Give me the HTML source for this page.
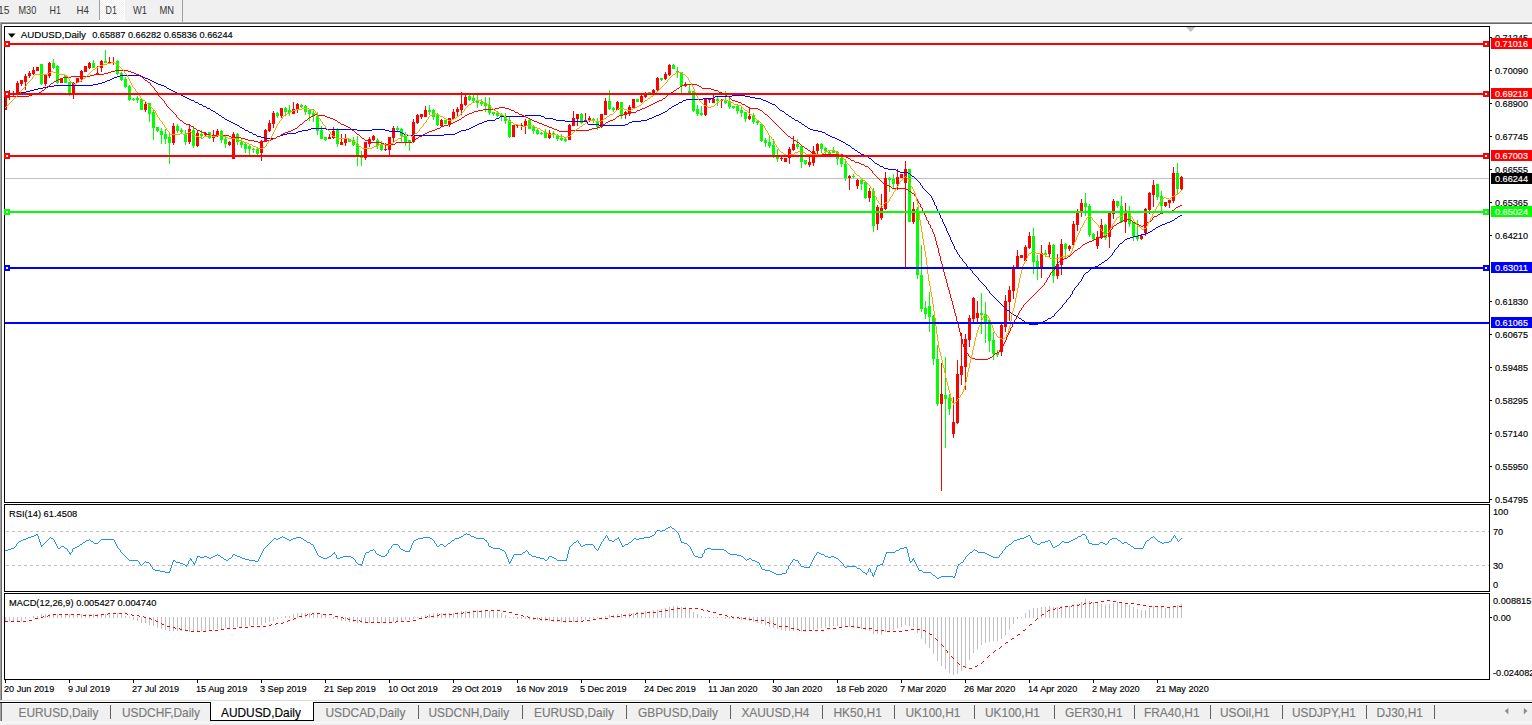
<!DOCTYPE html>
<html><head><meta charset="utf-8"><title>AUDUSD,Daily</title>
<style>html,body{margin:0;padding:0;background:#fff;overflow:hidden}body{width:1532px;height:725px;font-family:"Liberation Sans",sans-serif}</style></head>
<body>
<svg width="1532" height="725" viewBox="0 0 1532 725" font-family="Liberation Sans, sans-serif" style="display:block">
<rect x="0" y="0" width="1532" height="725" fill="#fff"/>
<g shape-rendering="crispEdges">
<rect x="0" y="0" width="1532" height="21" fill="#f0f0f0"/>
<rect x="0" y="21" width="1532" height="1" fill="#fbfbfb"/>
<rect x="0" y="22" width="1532" height="1" fill="#a0a0a0"/>
<rect x="0" y="23" width="1532" height="1" fill="#696969"/>
<defs><pattern id="chk" x="0" y="0" width="2" height="2" patternUnits="userSpaceOnUse"><rect width="2" height="2" fill="#f0f0f0"/><rect x="0" y="0" width="1" height="1" fill="#fff"/><rect x="1" y="1" width="1" height="1" fill="#fff"/></pattern></defs>
<rect x="100" y="0" width="24" height="20" fill="url(#chk)"/>
<rect x="124" y="0" width="1" height="21" fill="#fff"/>
<rect x="99" y="20" width="26" height="1" fill="#fff"/>
<rect x="99" y="0" width="1" height="20" fill="#a0a0a0"/>
<rect x="182" y="0" width="1" height="22" fill="#a0a0a0"/>
<rect x="0" y="22" width="1" height="679" fill="#a0a0a0"/>
<rect x="1" y="23" width="1" height="678" fill="#696969"/>
<rect x="0" y="700" width="1532" height="1" fill="#dcdcdc"/>
<rect x="0" y="701" width="1532" height="1" fill="#fff"/>
<rect x="0" y="703" width="1532" height="1" fill="#fdfdfd"/>
<rect x="0" y="704" width="1532" height="18" fill="#f0f0f0"/>
<rect x="0" y="722" width="1532" height="1" fill="#fbfbfb"/>
<rect x="0" y="723" width="1532" height="2" fill="#f0f0f0"/>
<rect x="0" y="702" width="1532" height="1" fill="#000"/>
<rect x="0" y="703" width="1" height="18" fill="#a0a0a0"/>
<rect x="1" y="703" width="1" height="18" fill="#696969"/>
<rect x="211" y="702" width="102" height="18" fill="#fff"/>
<rect x="210" y="702" width="1" height="19" fill="#000"/>
<rect x="313" y="702" width="1" height="19" fill="#000"/>
<rect x="210" y="720" width="104" height="1" fill="#000"/>
<rect x="110" y="705" width="1" height="14" fill="#606060"/>
<rect x="418" y="705" width="1" height="14" fill="#606060"/>
<rect x="522" y="705" width="1" height="14" fill="#606060"/>
<rect x="626" y="705" width="1" height="14" fill="#606060"/>
<rect x="730" y="705" width="1" height="14" fill="#606060"/>
<rect x="822" y="705" width="1" height="14" fill="#606060"/>
<rect x="894" y="705" width="1" height="14" fill="#606060"/>
<rect x="974" y="705" width="1" height="14" fill="#606060"/>
<rect x="1054" y="705" width="1" height="14" fill="#606060"/>
<rect x="1134" y="705" width="1" height="14" fill="#606060"/>
<rect x="1210" y="705" width="1" height="14" fill="#606060"/>
<rect x="1282" y="705" width="1" height="14" fill="#606060"/>
<rect x="1366" y="705" width="1" height="14" fill="#606060"/>
<rect x="1434" y="705" width="1" height="14" fill="#606060"/>
</g>
<path d="M1508.4 707.8 L1504.8 711.1 L1508.4 714.4 Z" fill="#8c8c8c"/>
<path d="M1523.8 707.8 L1527.4 711.1 L1523.8 714.4 Z" fill="#8c8c8c"/>
<g shape-rendering="crispEdges" fill="#000">
<rect x="4" y="26" width="1486" height="1"/>
<rect x="4" y="26" width="1" height="654"/>
<rect x="1489" y="26" width="1" height="654"/>
<rect x="4" y="502" width="1486" height="1"/>
<rect x="4" y="504" width="1486" height="1"/>
<rect x="4" y="591" width="1486" height="1"/>
<rect x="4" y="593" width="1486" height="1"/>
<rect x="4" y="679" width="1486" height="1"/>
</g>
<g shape-rendering="crispEdges" fill="#fff">
<rect x="4" y="503" width="1486" height="1"/>
<rect x="4" y="592" width="1486" height="1"/>
</g>
<path d="M1186 27 L1195.5 27 L1190.7 32 Z" fill="#c0c0c0"/>
<rect x="5" y="178" width="1484" height="1" fill="#c0c0c0" shape-rendering="crispEdges"/>
<g shape-rendering="crispEdges">
<rect x="5" y="91" width="1" height="19" fill="#ff0000"/>
<rect x="5" y="91" width="2" height="19" fill="#ff0000"/>
<rect x="9" y="90" width="1" height="10" fill="#ff0000"/>
<rect x="8" y="93" width="3" height="2" fill="#ff0000"/>
<rect x="13" y="91" width="1" height="5" fill="#ff0000"/>
<rect x="12" y="93" width="3" height="2" fill="#ff0000"/>
<rect x="17" y="81" width="1" height="13" fill="#ff0000"/>
<rect x="16" y="83" width="3" height="10" fill="#ff0000"/>
<rect x="21" y="80" width="1" height="6" fill="#ff0000"/>
<rect x="20" y="80" width="3" height="4" fill="#ff0000"/>
<rect x="25" y="74" width="1" height="16" fill="#ff0000"/>
<rect x="24" y="76" width="3" height="6" fill="#ff0000"/>
<rect x="29" y="71" width="1" height="7" fill="#ff0000"/>
<rect x="28" y="73" width="3" height="3" fill="#ff0000"/>
<rect x="33" y="67" width="1" height="8" fill="#ff0000"/>
<rect x="32" y="70" width="3" height="4" fill="#ff0000"/>
<rect x="37" y="67" width="1" height="4" fill="#ff0000"/>
<rect x="36" y="67" width="3" height="4" fill="#ff0000"/>
<rect x="41" y="64" width="1" height="21" fill="#00ff00"/>
<rect x="40" y="64" width="3" height="20" fill="#00ff00"/>
<rect x="45" y="75" width="1" height="11" fill="#ff0000"/>
<rect x="44" y="75" width="3" height="9" fill="#ff0000"/>
<rect x="49" y="62" width="1" height="16" fill="#ff0000"/>
<rect x="48" y="63" width="3" height="13" fill="#ff0000"/>
<rect x="53" y="59" width="1" height="10" fill="#00ff00"/>
<rect x="52" y="63" width="3" height="5" fill="#00ff00"/>
<rect x="57" y="65" width="1" height="19" fill="#00ff00"/>
<rect x="56" y="66" width="3" height="17" fill="#00ff00"/>
<rect x="61" y="78" width="1" height="5" fill="#ff0000"/>
<rect x="60" y="78" width="3" height="5" fill="#ff0000"/>
<rect x="65" y="75" width="1" height="8" fill="#00ff00"/>
<rect x="64" y="75" width="3" height="8" fill="#00ff00"/>
<rect x="69" y="82" width="1" height="14" fill="#00ff00"/>
<rect x="68" y="82" width="3" height="11" fill="#00ff00"/>
<rect x="73" y="82" width="1" height="17" fill="#ff0000"/>
<rect x="72" y="83" width="3" height="11" fill="#ff0000"/>
<rect x="77" y="78" width="1" height="5" fill="#ff0000"/>
<rect x="76" y="78" width="3" height="5" fill="#ff0000"/>
<rect x="81" y="70" width="1" height="12" fill="#ff0000"/>
<rect x="80" y="71" width="3" height="8" fill="#ff0000"/>
<rect x="85" y="66" width="1" height="6" fill="#ff0000"/>
<rect x="84" y="66" width="3" height="6" fill="#ff0000"/>
<rect x="89" y="62" width="1" height="7" fill="#ff0000"/>
<rect x="88" y="63" width="3" height="5" fill="#ff0000"/>
<rect x="93" y="60" width="1" height="8" fill="#00ff00"/>
<rect x="92" y="63" width="3" height="5" fill="#00ff00"/>
<rect x="97" y="66" width="1" height="8" fill="#ff0000"/>
<rect x="96" y="73" width="3" height="1" fill="#ff0000"/>
<rect x="101" y="60" width="1" height="12" fill="#ff0000"/>
<rect x="100" y="61" width="3" height="7" fill="#ff0000"/>
<rect x="105" y="50" width="1" height="13" fill="#00ff00"/>
<rect x="104" y="61" width="3" height="2" fill="#00ff00"/>
<rect x="109" y="57" width="1" height="6" fill="#ff0000"/>
<rect x="108" y="62" width="3" height="1" fill="#ff0000"/>
<rect x="113" y="57" width="1" height="8" fill="#ff0000"/>
<rect x="112" y="62" width="3" height="1" fill="#ff0000"/>
<rect x="117" y="60" width="1" height="15" fill="#00ff00"/>
<rect x="116" y="61" width="3" height="13" fill="#00ff00"/>
<rect x="121" y="72" width="1" height="9" fill="#00ff00"/>
<rect x="120" y="73" width="3" height="7" fill="#00ff00"/>
<rect x="125" y="77" width="1" height="11" fill="#00ff00"/>
<rect x="124" y="79" width="3" height="8" fill="#00ff00"/>
<rect x="129" y="85" width="1" height="16" fill="#00ff00"/>
<rect x="128" y="86" width="3" height="14" fill="#00ff00"/>
<rect x="133" y="98" width="1" height="3" fill="#00ff00"/>
<rect x="132" y="99" width="3" height="1" fill="#00ff00"/>
<rect x="137" y="96" width="1" height="7" fill="#00ff00"/>
<rect x="136" y="98" width="3" height="2" fill="#00ff00"/>
<rect x="141" y="99" width="1" height="11" fill="#00ff00"/>
<rect x="140" y="99" width="3" height="11" fill="#00ff00"/>
<rect x="145" y="101" width="1" height="11" fill="#ff0000"/>
<rect x="144" y="104" width="3" height="6" fill="#ff0000"/>
<rect x="149" y="103" width="1" height="19" fill="#00ff00"/>
<rect x="148" y="103" width="3" height="11" fill="#00ff00"/>
<rect x="153" y="110" width="1" height="30" fill="#00ff00"/>
<rect x="152" y="112" width="3" height="16" fill="#00ff00"/>
<rect x="157" y="127" width="1" height="5" fill="#00ff00"/>
<rect x="156" y="127" width="3" height="4" fill="#00ff00"/>
<rect x="161" y="128" width="1" height="16" fill="#00ff00"/>
<rect x="160" y="131" width="3" height="4" fill="#00ff00"/>
<rect x="165" y="129" width="1" height="15" fill="#00ff00"/>
<rect x="164" y="134" width="3" height="5" fill="#00ff00"/>
<rect x="169" y="134" width="1" height="30" fill="#00ff00"/>
<rect x="168" y="137" width="3" height="6" fill="#00ff00"/>
<rect x="173" y="123" width="1" height="22" fill="#ff0000"/>
<rect x="172" y="126" width="3" height="17" fill="#ff0000"/>
<rect x="177" y="124" width="1" height="9" fill="#00ff00"/>
<rect x="176" y="126" width="3" height="5" fill="#00ff00"/>
<rect x="181" y="128" width="1" height="6" fill="#00ff00"/>
<rect x="180" y="130" width="3" height="2" fill="#00ff00"/>
<rect x="185" y="130" width="1" height="15" fill="#00ff00"/>
<rect x="184" y="134" width="3" height="8" fill="#00ff00"/>
<rect x="189" y="124" width="1" height="20" fill="#ff0000"/>
<rect x="188" y="129" width="3" height="13" fill="#ff0000"/>
<rect x="193" y="126" width="1" height="22" fill="#00ff00"/>
<rect x="192" y="130" width="3" height="16" fill="#00ff00"/>
<rect x="197" y="130" width="1" height="17" fill="#ff0000"/>
<rect x="196" y="133" width="3" height="13" fill="#ff0000"/>
<rect x="201" y="130" width="1" height="8" fill="#00ff00"/>
<rect x="200" y="134" width="3" height="2" fill="#00ff00"/>
<rect x="205" y="132" width="1" height="4" fill="#ff0000"/>
<rect x="204" y="133" width="3" height="2" fill="#ff0000"/>
<rect x="209" y="132" width="1" height="7" fill="#00ff00"/>
<rect x="208" y="132" width="3" height="6" fill="#00ff00"/>
<rect x="213" y="130" width="1" height="12" fill="#ff0000"/>
<rect x="212" y="136" width="3" height="2" fill="#ff0000"/>
<rect x="217" y="129" width="1" height="8" fill="#ff0000"/>
<rect x="216" y="131" width="3" height="4" fill="#ff0000"/>
<rect x="221" y="130" width="1" height="13" fill="#00ff00"/>
<rect x="220" y="131" width="3" height="9" fill="#00ff00"/>
<rect x="225" y="136" width="1" height="12" fill="#00ff00"/>
<rect x="224" y="139" width="3" height="5" fill="#00ff00"/>
<rect x="229" y="141" width="1" height="5" fill="#ff0000"/>
<rect x="228" y="142" width="3" height="3" fill="#ff0000"/>
<rect x="233" y="132" width="1" height="27" fill="#ff0000"/>
<rect x="232" y="134" width="3" height="25" fill="#ff0000"/>
<rect x="237" y="133" width="1" height="12" fill="#00ff00"/>
<rect x="236" y="134" width="3" height="8" fill="#00ff00"/>
<rect x="241" y="139" width="1" height="9" fill="#00ff00"/>
<rect x="240" y="142" width="3" height="3" fill="#00ff00"/>
<rect x="245" y="143" width="1" height="10" fill="#00ff00"/>
<rect x="244" y="144" width="3" height="5" fill="#00ff00"/>
<rect x="249" y="145" width="1" height="10" fill="#00ff00"/>
<rect x="248" y="146" width="3" height="3" fill="#00ff00"/>
<rect x="253" y="148" width="1" height="5" fill="#00ff00"/>
<rect x="252" y="149" width="3" height="1" fill="#00ff00"/>
<rect x="257" y="147" width="1" height="8" fill="#00ff00"/>
<rect x="256" y="149" width="3" height="5" fill="#00ff00"/>
<rect x="261" y="140" width="1" height="21" fill="#ff0000"/>
<rect x="260" y="141" width="3" height="12" fill="#ff0000"/>
<rect x="265" y="129" width="1" height="13" fill="#ff0000"/>
<rect x="264" y="130" width="3" height="12" fill="#ff0000"/>
<rect x="269" y="120" width="1" height="12" fill="#ff0000"/>
<rect x="268" y="123" width="3" height="8" fill="#ff0000"/>
<rect x="273" y="111" width="1" height="17" fill="#ff0000"/>
<rect x="272" y="113" width="3" height="11" fill="#ff0000"/>
<rect x="277" y="112" width="1" height="6" fill="#00ff00"/>
<rect x="276" y="113" width="3" height="3" fill="#00ff00"/>
<rect x="281" y="108" width="1" height="10" fill="#ff0000"/>
<rect x="280" y="108" width="3" height="8" fill="#ff0000"/>
<rect x="285" y="107" width="1" height="9" fill="#00ff00"/>
<rect x="284" y="108" width="3" height="4" fill="#00ff00"/>
<rect x="289" y="105" width="1" height="11" fill="#00ff00"/>
<rect x="288" y="110" width="3" height="3" fill="#00ff00"/>
<rect x="293" y="102" width="1" height="12" fill="#ff0000"/>
<rect x="292" y="109" width="3" height="5" fill="#ff0000"/>
<rect x="297" y="103" width="1" height="10" fill="#ff0000"/>
<rect x="296" y="104" width="3" height="6" fill="#ff0000"/>
<rect x="301" y="104" width="1" height="4" fill="#00ff00"/>
<rect x="300" y="105" width="3" height="2" fill="#00ff00"/>
<rect x="305" y="105" width="1" height="10" fill="#00ff00"/>
<rect x="304" y="106" width="3" height="6" fill="#00ff00"/>
<rect x="309" y="109" width="1" height="12" fill="#00ff00"/>
<rect x="308" y="110" width="3" height="4" fill="#00ff00"/>
<rect x="313" y="109" width="1" height="13" fill="#00ff00"/>
<rect x="312" y="113" width="3" height="3" fill="#00ff00"/>
<rect x="317" y="112" width="1" height="23" fill="#00ff00"/>
<rect x="316" y="116" width="3" height="15" fill="#00ff00"/>
<rect x="321" y="126" width="1" height="13" fill="#00ff00"/>
<rect x="320" y="130" width="3" height="9" fill="#00ff00"/>
<rect x="325" y="137" width="1" height="4" fill="#00ff00"/>
<rect x="324" y="137" width="3" height="3" fill="#00ff00"/>
<rect x="329" y="134" width="1" height="5" fill="#ff0000"/>
<rect x="328" y="137" width="3" height="2" fill="#ff0000"/>
<rect x="333" y="127" width="1" height="12" fill="#ff0000"/>
<rect x="332" y="131" width="3" height="7" fill="#ff0000"/>
<rect x="337" y="128" width="1" height="19" fill="#00ff00"/>
<rect x="336" y="130" width="3" height="14" fill="#00ff00"/>
<rect x="341" y="134" width="1" height="11" fill="#ff0000"/>
<rect x="340" y="142" width="3" height="3" fill="#ff0000"/>
<rect x="345" y="134" width="1" height="12" fill="#ff0000"/>
<rect x="344" y="139" width="3" height="4" fill="#ff0000"/>
<rect x="349" y="139" width="1" height="3" fill="#00ff00"/>
<rect x="348" y="139" width="3" height="3" fill="#00ff00"/>
<rect x="353" y="137" width="1" height="9" fill="#00ff00"/>
<rect x="352" y="140" width="3" height="5" fill="#00ff00"/>
<rect x="357" y="136" width="1" height="30" fill="#00ff00"/>
<rect x="356" y="144" width="3" height="11" fill="#00ff00"/>
<rect x="361" y="151" width="1" height="15" fill="#00ff00"/>
<rect x="360" y="155" width="3" height="3" fill="#00ff00"/>
<rect x="365" y="142" width="1" height="18" fill="#ff0000"/>
<rect x="364" y="142" width="3" height="16" fill="#ff0000"/>
<rect x="369" y="137" width="1" height="10" fill="#ff0000"/>
<rect x="368" y="139" width="3" height="5" fill="#ff0000"/>
<rect x="373" y="135" width="1" height="6" fill="#ff0000"/>
<rect x="372" y="136" width="3" height="4" fill="#ff0000"/>
<rect x="377" y="138" width="1" height="11" fill="#00ff00"/>
<rect x="376" y="140" width="3" height="6" fill="#00ff00"/>
<rect x="381" y="141" width="1" height="10" fill="#00ff00"/>
<rect x="380" y="145" width="3" height="5" fill="#00ff00"/>
<rect x="385" y="143" width="1" height="8" fill="#ff0000"/>
<rect x="384" y="149" width="3" height="1" fill="#ff0000"/>
<rect x="389" y="137" width="1" height="18" fill="#ff0000"/>
<rect x="388" y="137" width="3" height="13" fill="#ff0000"/>
<rect x="393" y="126" width="1" height="16" fill="#ff0000"/>
<rect x="392" y="128" width="3" height="10" fill="#ff0000"/>
<rect x="397" y="126" width="1" height="5" fill="#00ff00"/>
<rect x="396" y="128" width="3" height="2" fill="#00ff00"/>
<rect x="401" y="128" width="1" height="14" fill="#00ff00"/>
<rect x="400" y="129" width="3" height="7" fill="#00ff00"/>
<rect x="405" y="132" width="1" height="14" fill="#00ff00"/>
<rect x="404" y="136" width="3" height="6" fill="#00ff00"/>
<rect x="409" y="140" width="1" height="11" fill="#00ff00"/>
<rect x="408" y="140" width="3" height="2" fill="#00ff00"/>
<rect x="413" y="119" width="1" height="24" fill="#ff0000"/>
<rect x="412" y="122" width="3" height="20" fill="#ff0000"/>
<rect x="417" y="114" width="1" height="10" fill="#ff0000"/>
<rect x="416" y="115" width="3" height="8" fill="#ff0000"/>
<rect x="421" y="114" width="1" height="5" fill="#ff0000"/>
<rect x="420" y="114" width="3" height="3" fill="#ff0000"/>
<rect x="425" y="106" width="1" height="11" fill="#ff0000"/>
<rect x="424" y="110" width="3" height="7" fill="#ff0000"/>
<rect x="429" y="105" width="1" height="10" fill="#00ff00"/>
<rect x="428" y="110" width="3" height="2" fill="#00ff00"/>
<rect x="433" y="109" width="1" height="11" fill="#00ff00"/>
<rect x="432" y="110" width="3" height="7" fill="#00ff00"/>
<rect x="437" y="113" width="1" height="13" fill="#00ff00"/>
<rect x="436" y="115" width="3" height="10" fill="#00ff00"/>
<rect x="441" y="119" width="1" height="8" fill="#ff0000"/>
<rect x="440" y="120" width="3" height="6" fill="#ff0000"/>
<rect x="445" y="120" width="1" height="4" fill="#00ff00"/>
<rect x="444" y="120" width="3" height="4" fill="#00ff00"/>
<rect x="449" y="118" width="1" height="9" fill="#ff0000"/>
<rect x="448" y="118" width="3" height="6" fill="#ff0000"/>
<rect x="453" y="109" width="1" height="11" fill="#ff0000"/>
<rect x="452" y="112" width="3" height="7" fill="#ff0000"/>
<rect x="457" y="107" width="1" height="9" fill="#ff0000"/>
<rect x="456" y="109" width="3" height="3" fill="#ff0000"/>
<rect x="461" y="92" width="1" height="23" fill="#ff0000"/>
<rect x="460" y="104" width="3" height="6" fill="#ff0000"/>
<rect x="465" y="95" width="1" height="11" fill="#ff0000"/>
<rect x="464" y="97" width="3" height="8" fill="#ff0000"/>
<rect x="469" y="95" width="1" height="6" fill="#00ff00"/>
<rect x="468" y="96" width="3" height="4" fill="#00ff00"/>
<rect x="473" y="95" width="1" height="7" fill="#00ff00"/>
<rect x="472" y="98" width="3" height="3" fill="#00ff00"/>
<rect x="477" y="95" width="1" height="13" fill="#00ff00"/>
<rect x="476" y="100" width="3" height="3" fill="#00ff00"/>
<rect x="481" y="99" width="1" height="7" fill="#00ff00"/>
<rect x="480" y="102" width="3" height="2" fill="#00ff00"/>
<rect x="485" y="97" width="1" height="15" fill="#00ff00"/>
<rect x="484" y="103" width="3" height="3" fill="#00ff00"/>
<rect x="489" y="97" width="1" height="18" fill="#00ff00"/>
<rect x="488" y="105" width="3" height="8" fill="#00ff00"/>
<rect x="493" y="112" width="1" height="4" fill="#00ff00"/>
<rect x="492" y="112" width="3" height="2" fill="#00ff00"/>
<rect x="497" y="111" width="1" height="6" fill="#00ff00"/>
<rect x="496" y="113" width="3" height="3" fill="#00ff00"/>
<rect x="501" y="113" width="1" height="8" fill="#00ff00"/>
<rect x="500" y="115" width="3" height="2" fill="#00ff00"/>
<rect x="505" y="113" width="1" height="11" fill="#00ff00"/>
<rect x="504" y="117" width="3" height="4" fill="#00ff00"/>
<rect x="509" y="117" width="1" height="21" fill="#00ff00"/>
<rect x="508" y="120" width="3" height="17" fill="#00ff00"/>
<rect x="513" y="125" width="1" height="12" fill="#ff0000"/>
<rect x="512" y="125" width="3" height="12" fill="#ff0000"/>
<rect x="517" y="125" width="1" height="3" fill="#ff0000"/>
<rect x="516" y="125" width="3" height="1" fill="#ff0000"/>
<rect x="521" y="123" width="1" height="7" fill="#ff0000"/>
<rect x="520" y="125" width="3" height="1" fill="#ff0000"/>
<rect x="525" y="119" width="1" height="15" fill="#ff0000"/>
<rect x="524" y="121" width="3" height="5" fill="#ff0000"/>
<rect x="529" y="119" width="1" height="10" fill="#00ff00"/>
<rect x="528" y="120" width="3" height="9" fill="#00ff00"/>
<rect x="533" y="125" width="1" height="9" fill="#00ff00"/>
<rect x="532" y="127" width="3" height="4" fill="#00ff00"/>
<rect x="537" y="128" width="1" height="7" fill="#00ff00"/>
<rect x="536" y="130" width="3" height="4" fill="#00ff00"/>
<rect x="541" y="132" width="1" height="3" fill="#00ff00"/>
<rect x="540" y="133" width="3" height="1" fill="#00ff00"/>
<rect x="545" y="129" width="1" height="9" fill="#00ff00"/>
<rect x="544" y="132" width="3" height="6" fill="#00ff00"/>
<rect x="549" y="130" width="1" height="9" fill="#ff0000"/>
<rect x="548" y="133" width="3" height="5" fill="#ff0000"/>
<rect x="553" y="131" width="1" height="7" fill="#00ff00"/>
<rect x="552" y="133" width="3" height="2" fill="#00ff00"/>
<rect x="557" y="134" width="1" height="7" fill="#00ff00"/>
<rect x="556" y="135" width="3" height="4" fill="#00ff00"/>
<rect x="561" y="134" width="1" height="7" fill="#00ff00"/>
<rect x="560" y="138" width="3" height="2" fill="#00ff00"/>
<rect x="565" y="138" width="1" height="4" fill="#00ff00"/>
<rect x="564" y="139" width="3" height="2" fill="#00ff00"/>
<rect x="569" y="124" width="1" height="16" fill="#ff0000"/>
<rect x="568" y="125" width="3" height="15" fill="#ff0000"/>
<rect x="573" y="111" width="1" height="15" fill="#ff0000"/>
<rect x="572" y="118" width="3" height="8" fill="#ff0000"/>
<rect x="577" y="114" width="1" height="12" fill="#ff0000"/>
<rect x="576" y="114" width="3" height="5" fill="#ff0000"/>
<rect x="581" y="113" width="1" height="11" fill="#00ff00"/>
<rect x="580" y="114" width="3" height="9" fill="#00ff00"/>
<rect x="585" y="113" width="1" height="9" fill="#ff0000"/>
<rect x="584" y="120" width="3" height="2" fill="#ff0000"/>
<rect x="589" y="116" width="1" height="6" fill="#ff0000"/>
<rect x="588" y="118" width="3" height="3" fill="#ff0000"/>
<rect x="593" y="118" width="1" height="5" fill="#00ff00"/>
<rect x="592" y="119" width="3" height="2" fill="#00ff00"/>
<rect x="597" y="118" width="1" height="12" fill="#00ff00"/>
<rect x="596" y="121" width="3" height="6" fill="#00ff00"/>
<rect x="601" y="114" width="1" height="14" fill="#ff0000"/>
<rect x="600" y="114" width="3" height="13" fill="#ff0000"/>
<rect x="605" y="98" width="1" height="17" fill="#ff0000"/>
<rect x="604" y="101" width="3" height="14" fill="#ff0000"/>
<rect x="609" y="90" width="1" height="20" fill="#00ff00"/>
<rect x="608" y="101" width="3" height="8" fill="#00ff00"/>
<rect x="613" y="107" width="1" height="5" fill="#00ff00"/>
<rect x="612" y="108" width="3" height="2" fill="#00ff00"/>
<rect x="617" y="101" width="1" height="9" fill="#ff0000"/>
<rect x="616" y="102" width="3" height="8" fill="#ff0000"/>
<rect x="621" y="102" width="1" height="17" fill="#00ff00"/>
<rect x="620" y="102" width="3" height="13" fill="#00ff00"/>
<rect x="625" y="111" width="1" height="8" fill="#ff0000"/>
<rect x="624" y="112" width="3" height="3" fill="#ff0000"/>
<rect x="629" y="105" width="1" height="11" fill="#ff0000"/>
<rect x="628" y="107" width="3" height="7" fill="#ff0000"/>
<rect x="633" y="99" width="1" height="10" fill="#ff0000"/>
<rect x="632" y="99" width="3" height="9" fill="#ff0000"/>
<rect x="637" y="99" width="1" height="3" fill="#00ff00"/>
<rect x="636" y="99" width="3" height="3" fill="#00ff00"/>
<rect x="641" y="95" width="1" height="8" fill="#ff0000"/>
<rect x="640" y="96" width="3" height="6" fill="#ff0000"/>
<rect x="645" y="92" width="1" height="6" fill="#ff0000"/>
<rect x="644" y="93" width="3" height="4" fill="#ff0000"/>
<rect x="649" y="92" width="1" height="3" fill="#00ff00"/>
<rect x="648" y="92" width="3" height="3" fill="#00ff00"/>
<rect x="653" y="89" width="1" height="6" fill="#ff0000"/>
<rect x="652" y="90" width="3" height="5" fill="#ff0000"/>
<rect x="657" y="77" width="1" height="14" fill="#ff0000"/>
<rect x="656" y="78" width="3" height="12" fill="#ff0000"/>
<rect x="661" y="78" width="1" height="3" fill="#00ff00"/>
<rect x="660" y="78" width="3" height="2" fill="#00ff00"/>
<rect x="665" y="72" width="1" height="8" fill="#ff0000"/>
<rect x="664" y="74" width="3" height="5" fill="#ff0000"/>
<rect x="669" y="64" width="1" height="12" fill="#ff0000"/>
<rect x="668" y="65" width="3" height="10" fill="#ff0000"/>
<rect x="673" y="64" width="1" height="5" fill="#00ff00"/>
<rect x="672" y="65" width="3" height="4" fill="#00ff00"/>
<rect x="677" y="67" width="1" height="11" fill="#00ff00"/>
<rect x="676" y="71" width="3" height="2" fill="#00ff00"/>
<rect x="681" y="72" width="1" height="21" fill="#00ff00"/>
<rect x="680" y="72" width="3" height="14" fill="#00ff00"/>
<rect x="685" y="82" width="1" height="5" fill="#ff0000"/>
<rect x="684" y="84" width="3" height="2" fill="#ff0000"/>
<rect x="689" y="85" width="1" height="8" fill="#00ff00"/>
<rect x="688" y="91" width="3" height="2" fill="#00ff00"/>
<rect x="693" y="91" width="1" height="21" fill="#00ff00"/>
<rect x="692" y="91" width="3" height="20" fill="#00ff00"/>
<rect x="697" y="105" width="1" height="11" fill="#00ff00"/>
<rect x="696" y="109" width="3" height="5" fill="#00ff00"/>
<rect x="701" y="106" width="1" height="10" fill="#00ff00"/>
<rect x="700" y="113" width="3" height="2" fill="#00ff00"/>
<rect x="705" y="99" width="1" height="17" fill="#ff0000"/>
<rect x="704" y="99" width="3" height="16" fill="#ff0000"/>
<rect x="709" y="98" width="1" height="5" fill="#ff0000"/>
<rect x="708" y="98" width="3" height="2" fill="#ff0000"/>
<rect x="713" y="95" width="1" height="8" fill="#ff0000"/>
<rect x="712" y="99" width="3" height="4" fill="#ff0000"/>
<rect x="717" y="97" width="1" height="9" fill="#00ff00"/>
<rect x="716" y="99" width="3" height="2" fill="#00ff00"/>
<rect x="721" y="99" width="1" height="9" fill="#ff0000"/>
<rect x="720" y="100" width="3" height="1" fill="#ff0000"/>
<rect x="725" y="91" width="1" height="13" fill="#00ff00"/>
<rect x="724" y="100" width="3" height="3" fill="#00ff00"/>
<rect x="729" y="98" width="1" height="11" fill="#00ff00"/>
<rect x="728" y="101" width="3" height="6" fill="#00ff00"/>
<rect x="733" y="106" width="1" height="3" fill="#00ff00"/>
<rect x="732" y="106" width="3" height="2" fill="#00ff00"/>
<rect x="737" y="104" width="1" height="10" fill="#00ff00"/>
<rect x="736" y="106" width="3" height="5" fill="#00ff00"/>
<rect x="741" y="106" width="1" height="11" fill="#00ff00"/>
<rect x="740" y="110" width="3" height="3" fill="#00ff00"/>
<rect x="745" y="112" width="1" height="10" fill="#00ff00"/>
<rect x="744" y="112" width="3" height="7" fill="#00ff00"/>
<rect x="749" y="108" width="1" height="12" fill="#ff0000"/>
<rect x="748" y="116" width="3" height="3" fill="#ff0000"/>
<rect x="753" y="113" width="1" height="11" fill="#00ff00"/>
<rect x="752" y="115" width="3" height="7" fill="#00ff00"/>
<rect x="757" y="120" width="1" height="5" fill="#00ff00"/>
<rect x="756" y="121" width="3" height="2" fill="#00ff00"/>
<rect x="761" y="124" width="1" height="18" fill="#00ff00"/>
<rect x="760" y="124" width="3" height="17" fill="#00ff00"/>
<rect x="765" y="138" width="1" height="9" fill="#00ff00"/>
<rect x="764" y="140" width="3" height="3" fill="#00ff00"/>
<rect x="769" y="135" width="1" height="13" fill="#00ff00"/>
<rect x="768" y="142" width="3" height="4" fill="#00ff00"/>
<rect x="773" y="139" width="1" height="19" fill="#00ff00"/>
<rect x="772" y="145" width="3" height="12" fill="#00ff00"/>
<rect x="777" y="149" width="1" height="13" fill="#00ff00"/>
<rect x="776" y="157" width="3" height="2" fill="#00ff00"/>
<rect x="781" y="157" width="1" height="4" fill="#ff0000"/>
<rect x="780" y="158" width="3" height="1" fill="#ff0000"/>
<rect x="785" y="158" width="1" height="4" fill="#ff0000"/>
<rect x="784" y="158" width="3" height="4" fill="#ff0000"/>
<rect x="789" y="147" width="1" height="17" fill="#ff0000"/>
<rect x="788" y="149" width="3" height="9" fill="#ff0000"/>
<rect x="793" y="136" width="1" height="15" fill="#ff0000"/>
<rect x="792" y="144" width="3" height="6" fill="#ff0000"/>
<rect x="797" y="139" width="1" height="10" fill="#00ff00"/>
<rect x="796" y="144" width="3" height="3" fill="#00ff00"/>
<rect x="801" y="145" width="1" height="23" fill="#00ff00"/>
<rect x="800" y="146" width="3" height="16" fill="#00ff00"/>
<rect x="805" y="160" width="1" height="5" fill="#00ff00"/>
<rect x="804" y="160" width="3" height="4" fill="#00ff00"/>
<rect x="809" y="156" width="1" height="11" fill="#ff0000"/>
<rect x="808" y="162" width="3" height="3" fill="#ff0000"/>
<rect x="813" y="146" width="1" height="20" fill="#ff0000"/>
<rect x="812" y="151" width="3" height="12" fill="#ff0000"/>
<rect x="817" y="143" width="1" height="11" fill="#ff0000"/>
<rect x="816" y="144" width="3" height="7" fill="#ff0000"/>
<rect x="821" y="143" width="1" height="10" fill="#00ff00"/>
<rect x="820" y="144" width="3" height="5" fill="#00ff00"/>
<rect x="825" y="147" width="1" height="7" fill="#00ff00"/>
<rect x="824" y="148" width="3" height="3" fill="#00ff00"/>
<rect x="829" y="151" width="1" height="4" fill="#00ff00"/>
<rect x="828" y="152" width="3" height="2" fill="#00ff00"/>
<rect x="833" y="147" width="1" height="6" fill="#00ff00"/>
<rect x="832" y="151" width="3" height="2" fill="#00ff00"/>
<rect x="837" y="151" width="1" height="14" fill="#00ff00"/>
<rect x="836" y="152" width="3" height="7" fill="#00ff00"/>
<rect x="841" y="157" width="1" height="10" fill="#00ff00"/>
<rect x="840" y="158" width="3" height="6" fill="#00ff00"/>
<rect x="845" y="159" width="1" height="22" fill="#00ff00"/>
<rect x="844" y="164" width="3" height="14" fill="#00ff00"/>
<rect x="849" y="175" width="1" height="15" fill="#ff0000"/>
<rect x="848" y="176" width="3" height="2" fill="#ff0000"/>
<rect x="853" y="174" width="1" height="4" fill="#00ff00"/>
<rect x="852" y="176" width="3" height="1" fill="#00ff00"/>
<rect x="857" y="179" width="1" height="10" fill="#ff0000"/>
<rect x="856" y="180" width="3" height="6" fill="#ff0000"/>
<rect x="861" y="179" width="1" height="11" fill="#00ff00"/>
<rect x="860" y="180" width="3" height="4" fill="#00ff00"/>
<rect x="865" y="182" width="1" height="17" fill="#00ff00"/>
<rect x="864" y="182" width="3" height="16" fill="#00ff00"/>
<rect x="869" y="188" width="1" height="14" fill="#ff0000"/>
<rect x="868" y="191" width="3" height="7" fill="#ff0000"/>
<rect x="873" y="188" width="1" height="44" fill="#00ff00"/>
<rect x="872" y="191" width="3" height="35" fill="#00ff00"/>
<rect x="877" y="205" width="1" height="25" fill="#ff0000"/>
<rect x="876" y="207" width="3" height="17" fill="#ff0000"/>
<rect x="881" y="194" width="1" height="26" fill="#ff0000"/>
<rect x="880" y="208" width="3" height="10" fill="#ff0000"/>
<rect x="885" y="172" width="1" height="38" fill="#ff0000"/>
<rect x="884" y="178" width="3" height="31" fill="#ff0000"/>
<rect x="889" y="177" width="1" height="15" fill="#00ff00"/>
<rect x="888" y="178" width="3" height="2" fill="#00ff00"/>
<rect x="893" y="174" width="1" height="15" fill="#00ff00"/>
<rect x="892" y="179" width="3" height="5" fill="#00ff00"/>
<rect x="897" y="169" width="1" height="21" fill="#ff0000"/>
<rect x="896" y="177" width="3" height="7" fill="#ff0000"/>
<rect x="901" y="174" width="1" height="4" fill="#ff0000"/>
<rect x="900" y="174" width="3" height="4" fill="#ff0000"/>
<rect x="905" y="161" width="1" height="106" fill="#ff0000"/>
<rect x="904" y="169" width="3" height="14" fill="#ff0000"/>
<rect x="909" y="169" width="1" height="53" fill="#00ff00"/>
<rect x="908" y="169" width="3" height="53" fill="#00ff00"/>
<rect x="913" y="202" width="1" height="22" fill="#ff0000"/>
<rect x="912" y="209" width="3" height="13" fill="#ff0000"/>
<rect x="917" y="207" width="1" height="72" fill="#00ff00"/>
<rect x="916" y="209" width="3" height="66" fill="#00ff00"/>
<rect x="921" y="245" width="1" height="67" fill="#00ff00"/>
<rect x="920" y="275" width="3" height="34" fill="#00ff00"/>
<rect x="925" y="301" width="1" height="18" fill="#00ff00"/>
<rect x="924" y="308" width="3" height="6" fill="#00ff00"/>
<rect x="929" y="292" width="1" height="40" fill="#00ff00"/>
<rect x="928" y="306" width="3" height="11" fill="#00ff00"/>
<rect x="933" y="315" width="1" height="50" fill="#00ff00"/>
<rect x="932" y="316" width="3" height="43" fill="#00ff00"/>
<rect x="937" y="345" width="1" height="61" fill="#00ff00"/>
<rect x="936" y="359" width="3" height="45" fill="#00ff00"/>
<rect x="941" y="363" width="1" height="128" fill="#ff0000"/>
<rect x="940" y="394" width="3" height="10" fill="#ff0000"/>
<rect x="945" y="357" width="1" height="91" fill="#00ff00"/>
<rect x="944" y="395" width="3" height="4" fill="#00ff00"/>
<rect x="949" y="394" width="1" height="21" fill="#00ff00"/>
<rect x="948" y="398" width="3" height="11" fill="#00ff00"/>
<rect x="953" y="397" width="1" height="41" fill="#ff0000"/>
<rect x="952" y="422" width="3" height="12" fill="#ff0000"/>
<rect x="957" y="360" width="1" height="64" fill="#ff0000"/>
<rect x="956" y="374" width="3" height="49" fill="#ff0000"/>
<rect x="961" y="333" width="1" height="52" fill="#ff0000"/>
<rect x="960" y="366" width="3" height="9" fill="#ff0000"/>
<rect x="965" y="334" width="1" height="56" fill="#ff0000"/>
<rect x="964" y="339" width="3" height="28" fill="#ff0000"/>
<rect x="969" y="315" width="1" height="32" fill="#ff0000"/>
<rect x="968" y="318" width="3" height="22" fill="#ff0000"/>
<rect x="973" y="297" width="1" height="25" fill="#ff0000"/>
<rect x="972" y="298" width="3" height="21" fill="#ff0000"/>
<rect x="977" y="301" width="1" height="21" fill="#ff0000"/>
<rect x="976" y="313" width="3" height="5" fill="#ff0000"/>
<rect x="981" y="293" width="1" height="41" fill="#00ff00"/>
<rect x="980" y="313" width="3" height="2" fill="#00ff00"/>
<rect x="985" y="302" width="1" height="41" fill="#00ff00"/>
<rect x="984" y="314" width="3" height="8" fill="#00ff00"/>
<rect x="989" y="319" width="1" height="33" fill="#00ff00"/>
<rect x="988" y="320" width="3" height="21" fill="#00ff00"/>
<rect x="993" y="332" width="1" height="28" fill="#00ff00"/>
<rect x="992" y="340" width="3" height="14" fill="#00ff00"/>
<rect x="997" y="350" width="1" height="7" fill="#00ff00"/>
<rect x="996" y="353" width="3" height="2" fill="#00ff00"/>
<rect x="1001" y="324" width="1" height="32" fill="#ff0000"/>
<rect x="1000" y="325" width="3" height="27" fill="#ff0000"/>
<rect x="1005" y="295" width="1" height="37" fill="#ff0000"/>
<rect x="1004" y="301" width="3" height="26" fill="#ff0000"/>
<rect x="1009" y="286" width="1" height="35" fill="#ff0000"/>
<rect x="1008" y="290" width="3" height="12" fill="#ff0000"/>
<rect x="1013" y="265" width="1" height="34" fill="#ff0000"/>
<rect x="1012" y="269" width="3" height="22" fill="#ff0000"/>
<rect x="1017" y="250" width="1" height="18" fill="#ff0000"/>
<rect x="1016" y="256" width="3" height="12" fill="#ff0000"/>
<rect x="1021" y="255" width="1" height="3" fill="#ff0000"/>
<rect x="1020" y="255" width="3" height="3" fill="#ff0000"/>
<rect x="1025" y="245" width="1" height="17" fill="#ff0000"/>
<rect x="1024" y="247" width="3" height="14" fill="#ff0000"/>
<rect x="1029" y="232" width="1" height="17" fill="#ff0000"/>
<rect x="1028" y="236" width="3" height="12" fill="#ff0000"/>
<rect x="1033" y="228" width="1" height="46" fill="#00ff00"/>
<rect x="1032" y="236" width="3" height="26" fill="#00ff00"/>
<rect x="1037" y="255" width="1" height="25" fill="#00ff00"/>
<rect x="1036" y="261" width="3" height="7" fill="#00ff00"/>
<rect x="1041" y="245" width="1" height="33" fill="#ff0000"/>
<rect x="1040" y="253" width="3" height="15" fill="#ff0000"/>
<rect x="1045" y="250" width="1" height="7" fill="#00ff00"/>
<rect x="1044" y="253" width="3" height="2" fill="#00ff00"/>
<rect x="1049" y="242" width="1" height="15" fill="#ff0000"/>
<rect x="1048" y="245" width="3" height="9" fill="#ff0000"/>
<rect x="1053" y="244" width="1" height="39" fill="#00ff00"/>
<rect x="1052" y="245" width="3" height="31" fill="#00ff00"/>
<rect x="1057" y="254" width="1" height="25" fill="#ff0000"/>
<rect x="1056" y="264" width="3" height="12" fill="#ff0000"/>
<rect x="1061" y="239" width="1" height="36" fill="#ff0000"/>
<rect x="1060" y="244" width="3" height="21" fill="#ff0000"/>
<rect x="1065" y="243" width="1" height="16" fill="#00ff00"/>
<rect x="1064" y="244" width="3" height="5" fill="#00ff00"/>
<rect x="1069" y="245" width="1" height="6" fill="#ff0000"/>
<rect x="1068" y="246" width="3" height="3" fill="#ff0000"/>
<rect x="1073" y="221" width="1" height="25" fill="#ff0000"/>
<rect x="1072" y="224" width="3" height="21" fill="#ff0000"/>
<rect x="1077" y="209" width="1" height="22" fill="#ff0000"/>
<rect x="1076" y="212" width="3" height="13" fill="#ff0000"/>
<rect x="1081" y="199" width="1" height="18" fill="#ff0000"/>
<rect x="1080" y="203" width="3" height="10" fill="#ff0000"/>
<rect x="1085" y="193" width="1" height="23" fill="#00ff00"/>
<rect x="1084" y="203" width="3" height="4" fill="#00ff00"/>
<rect x="1089" y="204" width="1" height="33" fill="#00ff00"/>
<rect x="1088" y="206" width="3" height="29" fill="#00ff00"/>
<rect x="1093" y="233" width="1" height="7" fill="#00ff00"/>
<rect x="1092" y="234" width="3" height="5" fill="#00ff00"/>
<rect x="1097" y="231" width="1" height="18" fill="#ff0000"/>
<rect x="1096" y="237" width="3" height="9" fill="#ff0000"/>
<rect x="1101" y="219" width="1" height="20" fill="#ff0000"/>
<rect x="1100" y="225" width="3" height="13" fill="#ff0000"/>
<rect x="1105" y="224" width="1" height="16" fill="#00ff00"/>
<rect x="1104" y="225" width="3" height="13" fill="#00ff00"/>
<rect x="1109" y="212" width="1" height="36" fill="#ff0000"/>
<rect x="1108" y="212" width="3" height="25" fill="#ff0000"/>
<rect x="1113" y="199" width="1" height="20" fill="#ff0000"/>
<rect x="1112" y="201" width="3" height="13" fill="#ff0000"/>
<rect x="1117" y="201" width="1" height="7" fill="#00ff00"/>
<rect x="1116" y="201" width="3" height="5" fill="#00ff00"/>
<rect x="1121" y="196" width="1" height="27" fill="#00ff00"/>
<rect x="1120" y="206" width="3" height="16" fill="#00ff00"/>
<rect x="1125" y="203" width="1" height="30" fill="#ff0000"/>
<rect x="1124" y="212" width="3" height="10" fill="#ff0000"/>
<rect x="1129" y="206" width="1" height="21" fill="#00ff00"/>
<rect x="1128" y="212" width="3" height="12" fill="#00ff00"/>
<rect x="1133" y="222" width="1" height="19" fill="#00ff00"/>
<rect x="1132" y="222" width="3" height="14" fill="#00ff00"/>
<rect x="1137" y="220" width="1" height="21" fill="#00ff00"/>
<rect x="1136" y="236" width="3" height="3" fill="#00ff00"/>
<rect x="1141" y="235" width="1" height="5" fill="#ff0000"/>
<rect x="1140" y="236" width="3" height="3" fill="#ff0000"/>
<rect x="1145" y="208" width="1" height="28" fill="#ff0000"/>
<rect x="1144" y="209" width="3" height="24" fill="#ff0000"/>
<rect x="1149" y="192" width="1" height="22" fill="#ff0000"/>
<rect x="1148" y="193" width="3" height="17" fill="#ff0000"/>
<rect x="1153" y="180" width="1" height="27" fill="#ff0000"/>
<rect x="1152" y="185" width="3" height="10" fill="#ff0000"/>
<rect x="1157" y="184" width="1" height="16" fill="#00ff00"/>
<rect x="1156" y="184" width="3" height="13" fill="#00ff00"/>
<rect x="1161" y="191" width="1" height="20" fill="#00ff00"/>
<rect x="1160" y="196" width="3" height="10" fill="#00ff00"/>
<rect x="1165" y="202" width="1" height="5" fill="#ff0000"/>
<rect x="1164" y="202" width="3" height="4" fill="#ff0000"/>
<rect x="1169" y="199" width="1" height="9" fill="#ff0000"/>
<rect x="1168" y="200" width="3" height="3" fill="#ff0000"/>
<rect x="1173" y="167" width="1" height="36" fill="#ff0000"/>
<rect x="1172" y="173" width="3" height="28" fill="#ff0000"/>
<rect x="1177" y="163" width="1" height="31" fill="#00ff00"/>
<rect x="1176" y="173" width="3" height="16" fill="#00ff00"/>
<rect x="1181" y="176" width="1" height="14" fill="#ff0000"/>
<rect x="1180" y="177" width="3" height="12" fill="#ff0000"/>
</g>
<path d="M120 75h21v1h-21zM117 76h3v1h-3zM141 76h2v1h-2zM114 77h3v1h-3zM143 77h2v1h-2zM112 78h2v1h-2zM145 78h3v1h-3zM110 79h2v1h-2zM148 79h2v1h-2zM107 80h3v1h-3zM150 80h2v1h-2zM105 81h2v1h-2zM152 81h2v1h-2zM102 82h3v1h-3zM154 82h2v1h-2zM98 83h4v1h-4zM156 83h2v1h-2zM93 84h5v1h-5zM158 84h3v1h-3zM54 85h39v1h-39zM161 85h3v1h-3zM48 86h6v1h-6zM164 86h2v1h-2zM43 87h5v1h-5zM166 87h1v1h-1zM38 88h5v1h-5zM167 88h2v1h-2zM34 89h4v1h-4zM169 89h2v1h-2zM30 90h4v1h-4zM171 90h2v1h-2zM26 91h4v1h-4zM173 91h2v1h-2zM19 92h7v1h-7zM175 92h2v1h-2zM10 93h9v1h-9zM177 93h2v1h-2zM5 94h5v1h-5zM179 94h2v1h-2zM181 95h2v1h-2zM732 95h13v1h-13zM183 96h2v1h-2zM715 96h17v1h-17zM745 96h5v1h-5zM185 97h2v1h-2zM714 97h1v1h-1zM750 97h5v1h-5zM187 98h2v1h-2zM703 98h11v1h-11zM755 98h6v1h-6zM189 99h2v1h-2zM686 99h17v1h-17zM761 99h2v1h-2zM191 100h3v1h-3zM683 100h3v1h-3zM763 100h3v1h-3zM194 101h1v1h-1zM682 101h1v1h-1zM766 101h2v1h-2zM195 102h3v1h-3zM679 102h3v1h-3zM768 102h2v1h-2zM198 103h1v1h-1zM678 103h1v1h-1zM770 103h2v1h-2zM199 104h3v1h-3zM676 104h2v1h-2zM772 104h3v1h-3zM202 105h1v1h-1zM674 105h2v1h-2zM775 105h1v1h-1zM203 106h3v1h-3zM672 106h2v1h-2zM776 106h1v1h-1zM206 107h1v1h-1zM671 107h1v1h-1zM777 107h1v1h-1zM207 108h3v1h-3zM669 108h2v1h-2zM778 108h1v1h-1zM210 109h1v1h-1zM668 109h1v1h-1zM779 109h1v1h-1zM211 110h2v1h-2zM667 110h1v1h-1zM780 110h2v1h-2zM213 111h2v1h-2zM665 111h2v1h-2zM782 111h2v1h-2zM215 112h1v1h-1zM663 112h2v1h-2zM784 112h1v1h-1zM216 113h2v1h-2zM661 113h2v1h-2zM785 113h1v1h-1zM218 114h1v1h-1zM659 114h2v1h-2zM786 114h2v1h-2zM219 115h2v1h-2zM525 115h16v1h-16zM656 115h3v1h-3zM788 115h1v1h-1zM221 116h1v1h-1zM500 116h25v1h-25zM541 116h3v1h-3zM654 116h2v1h-2zM789 116h2v1h-2zM222 117h2v1h-2zM499 117h1v1h-1zM544 117h1v1h-1zM652 117h2v1h-2zM791 117h1v1h-1zM224 118h1v1h-1zM496 118h3v1h-3zM545 118h8v1h-8zM649 118h3v1h-3zM792 118h2v1h-2zM225 119h2v1h-2zM495 119h1v1h-1zM553 119h3v1h-3zM647 119h2v1h-2zM794 119h1v1h-1zM227 120h2v1h-2zM487 120h8v1h-8zM556 120h9v1h-9zM641 120h6v1h-6zM795 120h3v1h-3zM229 121h2v1h-2zM484 121h3v1h-3zM565 121h22v1h-22zM632 121h9v1h-9zM798 121h1v1h-1zM231 122h2v1h-2zM482 122h2v1h-2zM587 122h1v1h-1zM629 122h3v1h-3zM799 122h2v1h-2zM233 123h2v1h-2zM479 123h3v1h-3zM587 123h1v1h-1zM628 123h1v1h-1zM801 123h1v1h-1zM235 124h2v1h-2zM477 124h2v1h-2zM588 124h11v1h-11zM625 124h3v1h-3zM802 124h2v1h-2zM237 125h2v1h-2zM475 125h2v1h-2zM599 125h26v1h-26zM804 125h1v1h-1zM239 126h1v1h-1zM473 126h2v1h-2zM805 126h2v1h-2zM240 127h2v1h-2zM471 127h2v1h-2zM807 127h1v1h-1zM242 128h2v1h-2zM311 128h15v1h-15zM469 128h2v1h-2zM808 128h2v1h-2zM244 129h1v1h-1zM308 129h3v1h-3zM326 129h31v1h-31zM372 129h13v1h-13zM466 129h3v1h-3zM810 129h3v1h-3zM245 130h3v1h-3zM302 130h6v1h-6zM357 130h15v1h-15zM385 130h4v1h-4zM461 130h5v1h-5zM813 130h5v1h-5zM248 131h1v1h-1zM298 131h4v1h-4zM389 131h11v1h-11zM459 131h2v1h-2zM818 131h4v1h-4zM249 132h3v1h-3zM296 132h2v1h-2zM400 132h2v1h-2zM457 132h2v1h-2zM822 132h3v1h-3zM252 133h1v1h-1zM287 133h9v1h-9zM402 133h2v1h-2zM455 133h2v1h-2zM825 133h1v1h-1zM253 134h3v1h-3zM283 134h4v1h-4zM404 134h3v1h-3zM444 134h11v1h-11zM826 134h2v1h-2zM256 135h1v1h-1zM280 135h3v1h-3zM407 135h37v1h-37zM828 135h2v1h-2zM257 136h4v1h-4zM277 136h3v1h-3zM830 136h2v1h-2zM261 137h4v1h-4zM276 137h1v1h-1zM832 137h3v1h-3zM265 138h11v1h-11zM835 138h2v1h-2zM837 139h2v1h-2zM839 140h2v1h-2zM841 141h2v1h-2zM843 142h2v1h-2zM845 143h1v1h-1zM846 144h2v1h-2zM848 145h2v1h-2zM850 146h1v1h-1zM851 147h1v1h-1zM852 148h2v1h-2zM854 149h1v1h-1zM855 150h2v1h-2zM857 151h1v1h-1zM858 152h2v1h-2zM860 153h1v1h-1zM861 154h3v1h-3zM864 155h1v1h-1zM865 156h3v1h-3zM868 157h1v1h-1zM869 158h2v1h-2zM871 159h1v1h-1zM872 160h1v1h-1zM873 161h1v1h-1zM874 162h1v1h-1zM875 163h2v1h-2zM877 164h2v1h-2zM879 165h1v1h-1zM880 166h3v1h-3zM883 167h1v1h-1zM884 168h4v1h-4zM888 169h8v1h-8zM896 170h2v1h-2zM898 171h2v1h-2zM900 172h8v1h-8zM908 173h2v1h-2zM910 174h1v1h-1zM911 175h1v1h-1zM912 176h2v1h-2zM914 177h1v1h-1zM915 178h1v1h-1zM916 179h1v1h-1zM917 180h1v1h-1zM918 181h1v1h-1zM919 182h1v1h-1zM920 183h1v1h-1zM920 184h1v1h-1zM921 185h1v1h-1zM922 186h1v1h-1zM922 187h1v1h-1zM923 188h1v1h-1zM924 189h1v1h-1zM925 190h1v1h-1zM926 191h1v1h-1zM927 192h1v1h-1zM928 193h1v1h-1zM929 194h1v1h-1zM930 195h1v1h-1zM931 196h1v1h-1zM931 197h1v1h-1zM932 198h1v1h-1zM932 199h1v1h-1zM933 200h1v1h-1zM933 201h1v1h-1zM934 202h1v1h-1zM934 203h1v1h-1zM934 204h1v1h-1zM935 205h1v1h-1zM936 206h1v1h-1zM936 207h1v1h-1zM936 208h1v1h-1zM937 209h1v1h-1zM937 210h1v1h-1zM938 211h1v1h-1zM938 212h1v1h-1zM939 213h1v1h-1zM939 214h1v1h-1zM940 215h1v1h-1zM1180 215h2v1h-2zM940 216h1v1h-1zM1178 216h2v1h-2zM940 217h1v1h-1zM1177 217h1v1h-1zM941 218h1v1h-1zM1175 218h2v1h-2zM942 219h1v1h-1zM1174 219h1v1h-1zM942 220h1v1h-1zM1172 220h2v1h-2zM942 221h1v1h-1zM1170 221h2v1h-2zM943 222h1v1h-1zM1167 222h3v1h-3zM943 223h1v1h-1zM1165 223h2v1h-2zM944 224h1v1h-1zM1162 224h3v1h-3zM944 225h1v1h-1zM1160 225h2v1h-2zM945 226h1v1h-1zM1158 226h2v1h-2zM945 227h1v1h-1zM1156 227h2v1h-2zM946 228h1v1h-1zM1155 228h1v1h-1zM946 229h1v1h-1zM1153 229h2v1h-2zM946 230h1v1h-1zM1152 230h1v1h-1zM947 231h1v1h-1zM1150 231h2v1h-2zM947 232h1v1h-1zM1148 232h2v1h-2zM948 233h1v1h-1zM1145 233h3v1h-3zM948 234h1v1h-1zM1141 234h4v1h-4zM949 235h1v1h-1zM1138 235h3v1h-3zM949 236h1v1h-1zM1133 236h5v1h-5zM950 237h1v1h-1zM1130 237h3v1h-3zM950 238h1v1h-1zM1127 238h3v1h-3zM950 239h1v1h-1zM1125 239h2v1h-2zM951 240h1v1h-1zM1124 240h1v1h-1zM951 241h1v1h-1zM1123 241h1v1h-1zM952 242h1v1h-1zM1122 242h1v1h-1zM952 243h1v1h-1zM1120 243h2v1h-2zM953 244h1v1h-1zM1119 244h1v1h-1zM953 245h1v1h-1zM1118 245h1v1h-1zM954 246h1v1h-1zM1118 246h1v1h-1zM954 247h1v1h-1zM1117 247h1v1h-1zM954 248h1v1h-1zM1116 248h1v1h-1zM955 249h1v1h-1zM1115 249h1v1h-1zM956 250h1v1h-1zM1114 250h1v1h-1zM956 251h1v1h-1zM1114 251h1v1h-1zM957 252h1v1h-1zM1113 252h1v1h-1zM957 253h1v1h-1zM1112 253h1v1h-1zM958 254h1v1h-1zM1112 254h1v1h-1zM959 255h1v1h-1zM1111 255h1v1h-1zM959 256h1v1h-1zM1110 256h1v1h-1zM960 257h1v1h-1zM1109 257h1v1h-1zM961 258h1v1h-1zM1108 258h1v1h-1zM962 259h1v1h-1zM1107 259h1v1h-1zM962 260h1v1h-1zM1105 260h2v1h-2zM963 261h1v1h-1zM1104 261h1v1h-1zM964 262h1v1h-1zM1102 262h2v1h-2zM965 263h1v1h-1zM1101 263h1v1h-1zM966 264h1v1h-1zM1099 264h2v1h-2zM966 265h1v1h-1zM1098 265h1v1h-1zM967 266h1v1h-1zM1095 266h3v1h-3zM968 267h1v1h-1zM1093 267h2v1h-2zM969 268h1v1h-1zM1091 268h2v1h-2zM970 269h1v1h-1zM1090 269h1v1h-1zM971 270h1v1h-1zM1089 270h1v1h-1zM972 271h1v1h-1zM1088 271h1v1h-1zM972 272h1v1h-1zM1086 272h2v1h-2zM973 273h1v1h-1zM1085 273h1v1h-1zM974 274h1v1h-1zM1084 274h1v1h-1zM975 275h1v1h-1zM1083 275h1v1h-1zM976 276h1v1h-1zM1083 276h1v1h-1zM977 277h1v1h-1zM1082 277h1v1h-1zM978 278h1v1h-1zM1082 278h1v1h-1zM978 279h1v1h-1zM1081 279h1v1h-1zM979 280h1v1h-1zM1081 280h1v1h-1zM980 281h1v1h-1zM1080 281h1v1h-1zM981 282h1v1h-1zM1079 282h1v1h-1zM982 283h1v1h-1zM1078 283h1v1h-1zM983 284h1v1h-1zM1078 284h1v1h-1zM984 285h1v1h-1zM1077 285h1v1h-1zM985 286h1v1h-1zM1076 286h1v1h-1zM986 287h1v1h-1zM1075 287h1v1h-1zM986 288h1v1h-1zM1074 288h1v1h-1zM987 289h1v1h-1zM1074 289h1v1h-1zM988 290h1v1h-1zM1073 290h1v1h-1zM989 291h1v1h-1zM1072 291h1v1h-1zM989 292h1v1h-1zM1072 292h1v1h-1zM990 293h1v1h-1zM1072 293h1v1h-1zM991 294h1v1h-1zM1071 294h1v1h-1zM992 295h1v1h-1zM1070 295h1v1h-1zM993 296h1v1h-1zM1070 296h1v1h-1zM994 297h1v1h-1zM1069 297h1v1h-1zM995 298h1v1h-1zM1068 298h1v1h-1zM996 299h1v1h-1zM1067 299h1v1h-1zM997 300h1v1h-1zM1066 300h1v1h-1zM998 301h1v1h-1zM1066 301h1v1h-1zM999 302h1v1h-1zM1065 302h1v1h-1zM1000 303h1v1h-1zM1064 303h1v1h-1zM1001 304h1v1h-1zM1063 304h1v1h-1zM1002 305h1v1h-1zM1062 305h1v1h-1zM1003 306h1v1h-1zM1062 306h1v1h-1zM1004 307h1v1h-1zM1061 307h1v1h-1zM1005 308h1v1h-1zM1060 308h1v1h-1zM1006 309h1v1h-1zM1059 309h1v1h-1zM1007 310h2v1h-2zM1058 310h1v1h-1zM1009 311h1v1h-1zM1057 311h1v1h-1zM1010 312h1v1h-1zM1056 312h1v1h-1zM1011 313h2v1h-2zM1055 313h1v1h-1zM1013 314h1v1h-1zM1054 314h1v1h-1zM1014 315h2v1h-2zM1054 315h1v1h-1zM1016 316h2v1h-2zM1052 316h2v1h-2zM1018 317h1v1h-1zM1051 317h1v1h-1zM1019 318h2v1h-2zM1048 318h3v1h-3zM1021 319h1v1h-1zM1047 319h1v1h-1zM1022 320h2v1h-2zM1045 320h2v1h-2zM1024 321h1v1h-1zM1043 321h2v1h-2zM1025 322h2v1h-2zM1041 322h2v1h-2zM1027 323h2v1h-2zM1038 323h3v1h-3zM1029 324h9v1h-9z" fill="#0000ff" shape-rendering="crispEdges" />
<path d="M115 70h13v1h-13zM111 71h4v1h-4zM128 71h3v1h-3zM108 72h3v1h-3zM131 72h3v1h-3zM104 73h4v1h-4zM134 73h2v1h-2zM94 74h10v1h-10zM136 74h3v1h-3zM90 75h4v1h-4zM139 75h1v1h-1zM71 76h19v1h-19zM140 76h2v1h-2zM63 77h8v1h-8zM142 77h1v1h-1zM60 78h3v1h-3zM143 78h1v1h-1zM58 79h2v1h-2zM144 79h1v1h-1zM56 80h2v1h-2zM145 80h2v1h-2zM54 81h2v1h-2zM147 81h1v1h-1zM53 82h1v1h-1zM148 82h2v1h-2zM51 83h2v1h-2zM150 83h1v1h-1zM50 84h1v1h-1zM150 84h1v1h-1zM685 84h12v1h-12zM49 85h1v1h-1zM151 85h1v1h-1zM682 85h3v1h-3zM697 85h2v1h-2zM47 86h2v1h-2zM152 86h1v1h-1zM680 86h2v1h-2zM699 86h2v1h-2zM46 87h1v1h-1zM153 87h1v1h-1zM679 87h1v1h-1zM701 87h1v1h-1zM45 88h1v1h-1zM154 88h1v1h-1zM677 88h2v1h-2zM702 88h9v1h-9zM44 89h1v1h-1zM154 89h1v1h-1zM676 89h1v1h-1zM711 89h3v1h-3zM42 90h2v1h-2zM155 90h1v1h-1zM674 90h2v1h-2zM714 90h4v1h-4zM41 91h1v1h-1zM156 91h1v1h-1zM673 91h1v1h-1zM718 91h1v1h-1zM39 92h2v1h-2zM157 92h1v1h-1zM671 92h2v1h-2zM719 92h3v1h-3zM36 93h3v1h-3zM157 93h1v1h-1zM670 93h1v1h-1zM722 93h1v1h-1zM32 94h4v1h-4zM158 94h1v1h-1zM668 94h2v1h-2zM723 94h3v1h-3zM29 95h3v1h-3zM158 95h1v1h-1zM667 95h1v1h-1zM726 95h1v1h-1zM9 96h20v1h-20zM159 96h1v1h-1zM666 96h1v1h-1zM727 96h2v1h-2zM5 97h4v1h-4zM160 97h1v1h-1zM665 97h1v1h-1zM729 97h1v1h-1zM161 98h1v1h-1zM663 98h2v1h-2zM730 98h1v1h-1zM162 99h1v1h-1zM662 99h1v1h-1zM731 99h1v1h-1zM163 100h1v1h-1zM659 100h3v1h-3zM732 100h3v1h-3zM164 101h1v1h-1zM657 101h2v1h-2zM735 101h3v1h-3zM164 102h1v1h-1zM655 102h2v1h-2zM738 102h3v1h-3zM165 103h1v1h-1zM653 103h2v1h-2zM741 103h1v1h-1zM166 104h1v1h-1zM651 104h2v1h-2zM742 104h3v1h-3zM166 105h1v1h-1zM649 105h2v1h-2zM745 105h1v1h-1zM167 106h1v1h-1zM647 106h2v1h-2zM746 106h2v1h-2zM168 107h1v1h-1zM499 107h6v1h-6zM645 107h2v1h-2zM748 107h2v1h-2zM169 108h1v1h-1zM495 108h4v1h-4zM505 108h4v1h-4zM642 108h3v1h-3zM750 108h8v1h-8zM170 109h1v1h-1zM483 109h12v1h-12zM509 109h2v1h-2zM640 109h2v1h-2zM758 109h2v1h-2zM171 110h1v1h-1zM478 110h5v1h-5zM511 110h3v1h-3zM637 110h3v1h-3zM760 110h2v1h-2zM172 111h1v1h-1zM474 111h4v1h-4zM514 111h1v1h-1zM636 111h1v1h-1zM762 111h1v1h-1zM173 112h1v1h-1zM472 112h2v1h-2zM515 112h3v1h-3zM628 112h8v1h-8zM763 112h1v1h-1zM174 113h1v1h-1zM469 113h3v1h-3zM518 113h1v1h-1zM627 113h1v1h-1zM764 113h1v1h-1zM175 114h1v1h-1zM315 114h3v1h-3zM467 114h2v1h-2zM519 114h3v1h-3zM623 114h4v1h-4zM765 114h2v1h-2zM176 115h1v1h-1zM313 115h2v1h-2zM318 115h7v1h-7zM465 115h2v1h-2zM522 115h2v1h-2zM619 115h4v1h-4zM767 115h1v1h-1zM176 116h1v1h-1zM311 116h2v1h-2zM325 116h2v1h-2zM464 116h1v1h-1zM524 116h2v1h-2zM617 116h2v1h-2zM768 116h1v1h-1zM177 117h1v1h-1zM309 117h2v1h-2zM327 117h3v1h-3zM462 117h2v1h-2zM526 117h2v1h-2zM616 117h1v1h-1zM769 117h1v1h-1zM178 118h1v1h-1zM308 118h1v1h-1zM330 118h3v1h-3zM461 118h1v1h-1zM528 118h2v1h-2zM615 118h1v1h-1zM770 118h1v1h-1zM179 119h1v1h-1zM307 119h1v1h-1zM333 119h2v1h-2zM459 119h2v1h-2zM530 119h2v1h-2zM613 119h2v1h-2zM771 119h1v1h-1zM180 120h2v1h-2zM305 120h2v1h-2zM335 120h2v1h-2zM457 120h2v1h-2zM532 120h2v1h-2zM610 120h3v1h-3zM772 120h1v1h-1zM182 121h1v1h-1zM304 121h1v1h-1zM337 121h1v1h-1zM455 121h2v1h-2zM534 121h3v1h-3zM608 121h2v1h-2zM773 121h1v1h-1zM183 122h1v1h-1zM303 122h1v1h-1zM338 122h2v1h-2zM453 122h2v1h-2zM537 122h2v1h-2zM606 122h2v1h-2zM774 122h1v1h-1zM184 123h2v1h-2zM302 123h1v1h-1zM340 123h1v1h-1zM451 123h2v1h-2zM539 123h3v1h-3zM605 123h1v1h-1zM775 123h1v1h-1zM186 124h3v1h-3zM300 124h2v1h-2zM341 124h3v1h-3zM448 124h3v1h-3zM542 124h2v1h-2zM603 124h2v1h-2zM776 124h1v1h-1zM189 125h2v1h-2zM299 125h1v1h-1zM344 125h2v1h-2zM444 125h4v1h-4zM544 125h3v1h-3zM602 125h1v1h-1zM777 125h1v1h-1zM191 126h2v1h-2zM298 126h1v1h-1zM346 126h2v1h-2zM441 126h3v1h-3zM547 126h2v1h-2zM600 126h2v1h-2zM778 126h1v1h-1zM193 127h1v1h-1zM297 127h1v1h-1zM348 127h2v1h-2zM440 127h1v1h-1zM549 127h3v1h-3zM597 127h3v1h-3zM779 127h1v1h-1zM194 128h2v1h-2zM295 128h2v1h-2zM350 128h1v1h-1zM437 128h3v1h-3zM552 128h2v1h-2zM592 128h5v1h-5zM780 128h1v1h-1zM196 129h1v1h-1zM293 129h2v1h-2zM351 129h1v1h-1zM435 129h2v1h-2zM554 129h3v1h-3zM589 129h3v1h-3zM781 129h1v1h-1zM197 130h3v1h-3zM291 130h2v1h-2zM352 130h2v1h-2zM432 130h3v1h-3zM557 130h2v1h-2zM570 130h19v1h-19zM782 130h1v1h-1zM200 131h2v1h-2zM288 131h3v1h-3zM354 131h1v1h-1zM429 131h3v1h-3zM559 131h11v1h-11zM783 131h1v1h-1zM202 132h3v1h-3zM285 132h3v1h-3zM355 132h1v1h-1zM427 132h2v1h-2zM784 132h1v1h-1zM205 133h1v1h-1zM283 133h2v1h-2zM356 133h1v1h-1zM425 133h2v1h-2zM785 133h1v1h-1zM206 134h4v1h-4zM281 134h2v1h-2zM357 134h2v1h-2zM423 134h2v1h-2zM786 134h1v1h-1zM210 135h19v1h-19zM280 135h1v1h-1zM359 135h1v1h-1zM422 135h1v1h-1zM787 135h1v1h-1zM229 136h2v1h-2zM277 136h3v1h-3zM360 136h1v1h-1zM419 136h3v1h-3zM788 136h2v1h-2zM231 137h10v1h-10zM276 137h1v1h-1zM361 137h1v1h-1zM418 137h1v1h-1zM790 137h1v1h-1zM241 138h4v1h-4zM273 138h3v1h-3zM362 138h2v1h-2zM416 138h2v1h-2zM791 138h2v1h-2zM245 139h3v1h-3zM271 139h2v1h-2zM364 139h1v1h-1zM415 139h1v1h-1zM793 139h1v1h-1zM248 140h6v1h-6zM267 140h4v1h-4zM365 140h5v1h-5zM414 140h1v1h-1zM794 140h2v1h-2zM254 141h4v1h-4zM263 141h4v1h-4zM370 141h1v1h-1zM412 141h2v1h-2zM796 141h1v1h-1zM258 142h5v1h-5zM371 142h10v1h-10zM396 142h16v1h-16zM797 142h2v1h-2zM381 143h3v1h-3zM395 143h1v1h-1zM799 143h1v1h-1zM384 144h11v1h-11zM800 144h1v1h-1zM801 145h1v1h-1zM802 146h2v1h-2zM804 147h1v1h-1zM805 148h2v1h-2zM807 149h1v1h-1zM808 150h2v1h-2zM810 151h1v1h-1zM811 152h3v1h-3zM814 153h2v1h-2zM816 154h27v1h-27zM843 155h2v1h-2zM845 156h1v1h-1zM846 157h2v1h-2zM848 158h2v1h-2zM850 159h1v1h-1zM851 160h3v1h-3zM854 161h1v1h-1zM855 162h4v1h-4zM859 163h2v1h-2zM861 164h3v1h-3zM864 165h1v1h-1zM865 166h3v1h-3zM868 167h1v1h-1zM869 168h1v1h-1zM870 169h1v1h-1zM871 170h1v1h-1zM872 171h1v1h-1zM872 172h1v1h-1zM873 173h1v1h-1zM874 174h1v1h-1zM875 175h1v1h-1zM876 176h1v1h-1zM877 177h1v1h-1zM878 178h1v1h-1zM879 179h1v1h-1zM880 180h1v1h-1zM881 181h1v1h-1zM882 182h1v1h-1zM883 183h2v1h-2zM885 184h2v1h-2zM887 185h2v1h-2zM889 186h2v1h-2zM891 187h1v1h-1zM892 188h14v1h-14zM906 189h2v1h-2zM908 190h1v1h-1zM909 191h2v1h-2zM911 192h1v1h-1zM912 193h2v1h-2zM914 194h1v1h-1zM914 195h1v1h-1zM915 196h1v1h-1zM916 197h1v1h-1zM916 198h1v1h-1zM917 199h1v1h-1zM917 200h1v1h-1zM918 201h1v1h-1zM918 202h1v1h-1zM919 203h1v1h-1zM920 204h1v1h-1zM920 205h1v1h-1zM1180 205h2v1h-2zM920 206h1v1h-1zM1178 206h2v1h-2zM921 207h1v1h-1zM1176 207h2v1h-2zM922 208h1v1h-1zM1175 208h1v1h-1zM922 209h1v1h-1zM1174 209h1v1h-1zM922 210h1v1h-1zM1172 210h2v1h-2zM923 211h1v1h-1zM1169 211h3v1h-3zM923 212h1v1h-1zM1163 212h6v1h-6zM924 213h1v1h-1zM1160 213h3v1h-3zM924 214h1v1h-1zM1158 214h2v1h-2zM925 215h1v1h-1zM1157 215h1v1h-1zM925 216h1v1h-1zM1154 216h3v1h-3zM926 217h1v1h-1zM1153 217h1v1h-1zM926 218h1v1h-1zM1152 218h1v1h-1zM926 219h1v1h-1zM1125 219h5v1h-5zM1152 219h1v1h-1zM927 220h1v1h-1zM1123 220h2v1h-2zM1130 220h2v1h-2zM1151 220h1v1h-1zM928 221h1v1h-1zM1121 221h2v1h-2zM1132 221h1v1h-1zM1149 221h2v1h-2zM928 222h1v1h-1zM1119 222h2v1h-2zM1133 222h2v1h-2zM1147 222h2v1h-2zM928 223h1v1h-1zM1117 223h2v1h-2zM1135 223h2v1h-2zM1146 223h1v1h-1zM929 224h1v1h-1zM1116 224h1v1h-1zM1137 224h2v1h-2zM1145 224h1v1h-1zM930 225h1v1h-1zM1114 225h2v1h-2zM1139 225h2v1h-2zM1143 225h2v1h-2zM930 226h1v1h-1zM1113 226h1v1h-1zM1141 226h2v1h-2zM930 227h1v1h-1zM1112 227h1v1h-1zM931 228h1v1h-1zM1112 228h1v1h-1zM932 229h1v1h-1zM1111 229h1v1h-1zM932 230h1v1h-1zM1110 230h1v1h-1zM932 231h1v1h-1zM1109 231h1v1h-1zM933 232h1v1h-1zM1108 232h1v1h-1zM933 233h1v1h-1zM1107 233h1v1h-1zM934 234h1v1h-1zM1106 234h1v1h-1zM934 235h1v1h-1zM1106 235h1v1h-1zM934 236h1v1h-1zM1103 236h3v1h-3zM935 237h1v1h-1zM1099 237h4v1h-4zM935 238h1v1h-1zM1097 238h2v1h-2zM935 239h1v1h-1zM1094 239h3v1h-3zM935 240h1v1h-1zM1092 240h2v1h-2zM936 241h1v1h-1zM1089 241h3v1h-3zM936 242h1v1h-1zM1087 242h2v1h-2zM936 243h1v1h-1zM1085 243h2v1h-2zM936 244h1v1h-1zM1083 244h2v1h-2zM937 245h1v1h-1zM1082 245h1v1h-1zM937 246h1v1h-1zM1081 246h1v1h-1zM937 247h1v1h-1zM1080 247h1v1h-1zM938 248h1v1h-1zM1078 248h2v1h-2zM938 249h1v1h-1zM1077 249h1v1h-1zM938 250h1v1h-1zM1075 250h2v1h-2zM938 251h1v1h-1zM1074 251h1v1h-1zM938 252h1v1h-1zM1073 252h1v1h-1zM939 253h1v1h-1zM1072 253h1v1h-1zM939 254h1v1h-1zM1071 254h1v1h-1zM939 255h1v1h-1zM1070 255h1v1h-1zM940 256h1v1h-1zM1068 256h2v1h-2zM940 257h1v1h-1zM1067 257h1v1h-1zM940 258h1v1h-1zM1064 258h3v1h-3zM940 259h1v1h-1zM1063 259h1v1h-1zM940 260h1v1h-1zM1061 260h2v1h-2zM941 261h1v1h-1zM1059 261h2v1h-2zM941 262h1v1h-1zM1058 262h1v1h-1zM941 263h1v1h-1zM1057 263h1v1h-1zM942 264h1v1h-1zM1057 264h1v1h-1zM942 265h1v1h-1zM1056 265h1v1h-1zM942 266h1v1h-1zM1055 266h1v1h-1zM942 267h1v1h-1zM1055 267h1v1h-1zM943 268h1v1h-1zM1054 268h1v1h-1zM943 269h1v1h-1zM1054 269h1v1h-1zM943 270h1v1h-1zM1053 270h1v1h-1zM943 271h1v1h-1zM1052 271h1v1h-1zM944 272h1v1h-1zM1051 272h1v1h-1zM944 273h1v1h-1zM1050 273h1v1h-1zM944 274h1v1h-1zM1050 274h1v1h-1zM944 275h1v1h-1zM1049 275h1v1h-1zM945 276h1v1h-1zM1049 276h1v1h-1zM945 277h1v1h-1zM1048 277h1v1h-1zM945 278h1v1h-1zM1047 278h1v1h-1zM946 279h1v1h-1zM1047 279h1v1h-1zM946 280h1v1h-1zM1046 280h1v1h-1zM946 281h1v1h-1zM1046 281h1v1h-1zM946 282h1v1h-1zM1045 282h1v1h-1zM947 283h1v1h-1zM1044 283h1v1h-1zM947 284h1v1h-1zM1044 284h1v1h-1zM947 285h1v1h-1zM1043 285h1v1h-1zM947 286h1v1h-1zM1042 286h1v1h-1zM948 287h1v1h-1zM1041 287h1v1h-1zM948 288h1v1h-1zM1040 288h1v1h-1zM948 289h1v1h-1zM1039 289h1v1h-1zM949 290h1v1h-1zM1038 290h1v1h-1zM949 291h1v1h-1zM1037 291h1v1h-1zM949 292h1v1h-1zM1036 292h1v1h-1zM949 293h1v1h-1zM1035 293h1v1h-1zM950 294h1v1h-1zM1034 294h1v1h-1zM950 295h1v1h-1zM1033 295h1v1h-1zM950 296h1v1h-1zM1032 296h1v1h-1zM950 297h1v1h-1zM1031 297h1v1h-1zM951 298h1v1h-1zM1030 298h1v1h-1zM951 299h1v1h-1zM1029 299h1v1h-1zM951 300h1v1h-1zM1028 300h1v1h-1zM952 301h1v1h-1zM1027 301h1v1h-1zM952 302h1v1h-1zM1026 302h1v1h-1zM952 303h1v1h-1zM1025 303h1v1h-1zM952 304h1v1h-1zM1024 304h1v1h-1zM953 305h1v1h-1zM1023 305h1v1h-1zM953 306h1v1h-1zM1023 306h1v1h-1zM953 307h1v1h-1zM1022 307h1v1h-1zM953 308h1v1h-1zM1021 308h1v1h-1zM954 309h1v1h-1zM1021 309h1v1h-1zM954 310h1v1h-1zM1020 310h1v1h-1zM954 311h1v1h-1zM1019 311h1v1h-1zM954 312h1v1h-1zM1019 312h1v1h-1zM955 313h1v1h-1zM1018 313h1v1h-1zM955 314h1v1h-1zM1018 314h1v1h-1zM955 315h1v1h-1zM1017 315h1v1h-1zM956 316h1v1h-1zM1017 316h1v1h-1zM956 317h1v1h-1zM1016 317h1v1h-1zM956 318h1v1h-1zM1016 318h1v1h-1zM956 319h1v1h-1zM1015 319h1v1h-1zM956 320h1v1h-1zM1014 320h1v1h-1zM957 321h1v1h-1zM1014 321h1v1h-1zM957 322h1v1h-1zM1014 322h1v1h-1zM957 323h1v1h-1zM1013 323h1v1h-1zM958 324h1v1h-1zM1012 324h1v1h-1zM958 325h1v1h-1zM1012 325h1v1h-1zM958 326h1v1h-1zM1012 326h1v1h-1zM958 327h1v1h-1zM1011 327h1v1h-1zM959 328h1v1h-1zM1010 328h1v1h-1zM959 329h1v1h-1zM1010 329h1v1h-1zM959 330h1v1h-1zM1010 330h1v1h-1zM959 331h1v1h-1zM1009 331h1v1h-1zM960 332h1v1h-1zM1009 332h1v1h-1zM960 333h1v1h-1zM1008 333h1v1h-1zM960 334h1v1h-1zM1008 334h1v1h-1zM960 335h1v1h-1zM1007 335h1v1h-1zM961 336h1v1h-1zM1007 336h1v1h-1zM961 337h1v1h-1zM1006 337h1v1h-1zM961 338h1v1h-1zM1006 338h1v1h-1zM962 339h1v1h-1zM1006 339h1v1h-1zM962 340h1v1h-1zM1005 340h1v1h-1zM962 341h1v1h-1zM1005 341h1v1h-1zM962 342h1v1h-1zM1004 342h1v1h-1zM962 343h1v1h-1zM1004 343h1v1h-1zM963 344h1v1h-1zM1003 344h1v1h-1zM963 345h1v1h-1zM1003 345h1v1h-1zM963 346h1v1h-1zM1002 346h1v1h-1zM964 347h1v1h-1zM1002 347h1v1h-1zM964 348h1v1h-1zM1001 348h1v1h-1zM965 349h1v1h-1zM1000 349h1v1h-1zM965 350h1v1h-1zM999 350h1v1h-1zM966 351h1v1h-1zM999 351h1v1h-1zM966 352h1v1h-1zM997 352h2v1h-2zM967 353h1v1h-1zM995 353h2v1h-2zM968 354h1v1h-1zM994 354h1v1h-1zM968 355h1v1h-1zM993 355h1v1h-1zM969 356h1v1h-1zM992 356h1v1h-1zM970 357h2v1h-2zM990 357h2v1h-2zM972 358h3v1h-3zM988 358h2v1h-2zM975 359h13v1h-13z" fill="#ff0000" shape-rendering="crispEdges" />
<path d="M111 62h4v1h-4zM107 63h4v1h-4zM115 63h2v1h-2zM103 64h4v1h-4zM117 64h1v1h-1zM100 65h3v1h-3zM118 65h1v1h-1zM98 66h2v1h-2zM119 66h1v1h-1zM96 67h2v1h-2zM120 67h1v1h-1zM95 68h1v1h-1zM121 68h1v1h-1zM93 69h2v1h-2zM122 69h1v1h-1zM92 70h1v1h-1zM123 70h1v1h-1zM51 71h2v1h-2zM91 71h1v1h-1zM124 71h1v1h-1zM49 72h2v1h-2zM53 72h3v1h-3zM90 72h1v1h-1zM124 72h1v1h-1zM676 72h6v1h-6zM47 73h2v1h-2zM56 73h1v1h-1zM89 73h1v1h-1zM125 73h1v1h-1zM675 73h1v1h-1zM682 73h1v1h-1zM35 74h12v1h-12zM57 74h8v1h-8zM88 74h1v1h-1zM126 74h1v1h-1zM673 74h2v1h-2zM683 74h2v1h-2zM34 75h1v1h-1zM65 75h2v1h-2zM87 75h1v1h-1zM127 75h1v1h-1zM672 75h1v1h-1zM685 75h1v1h-1zM33 76h1v1h-1zM67 76h1v1h-1zM86 76h1v1h-1zM127 76h1v1h-1zM671 76h1v1h-1zM686 76h1v1h-1zM32 77h1v1h-1zM68 77h1v1h-1zM85 77h1v1h-1zM128 77h1v1h-1zM670 77h1v1h-1zM687 77h1v1h-1zM32 78h1v1h-1zM68 78h1v1h-1zM83 78h2v1h-2zM128 78h1v1h-1zM669 78h1v1h-1zM688 78h1v1h-1zM31 79h1v1h-1zM69 79h1v1h-1zM82 79h1v1h-1zM129 79h1v1h-1zM668 79h1v1h-1zM688 79h1v1h-1zM30 80h1v1h-1zM69 80h1v1h-1zM81 80h1v1h-1zM129 80h1v1h-1zM667 80h1v1h-1zM689 80h1v1h-1zM29 81h1v1h-1zM70 81h1v1h-1zM79 81h2v1h-2zM130 81h1v1h-1zM667 81h1v1h-1zM689 81h1v1h-1zM28 82h1v1h-1zM71 82h2v1h-2zM77 82h2v1h-2zM130 82h1v1h-1zM666 82h1v1h-1zM690 82h1v1h-1zM27 83h1v1h-1zM73 83h1v1h-1zM76 83h1v1h-1zM131 83h1v1h-1zM665 83h1v1h-1zM691 83h1v1h-1zM26 84h1v1h-1zM74 84h2v1h-2zM131 84h1v1h-1zM664 84h1v1h-1zM691 84h1v1h-1zM26 85h1v1h-1zM132 85h1v1h-1zM663 85h1v1h-1zM692 85h1v1h-1zM25 86h1v1h-1zM132 86h1v1h-1zM662 86h1v1h-1zM692 86h1v1h-1zM24 87h1v1h-1zM133 87h1v1h-1zM661 87h1v1h-1zM693 87h1v1h-1zM23 88h1v1h-1zM134 88h1v1h-1zM660 88h1v1h-1zM693 88h1v1h-1zM22 89h1v1h-1zM135 89h1v1h-1zM659 89h1v1h-1zM694 89h1v1h-1zM21 90h1v1h-1zM135 90h1v1h-1zM658 90h1v1h-1zM694 90h1v1h-1zM20 91h1v1h-1zM136 91h1v1h-1zM657 91h1v1h-1zM694 91h1v1h-1zM20 92h1v1h-1zM137 92h1v1h-1zM656 92h1v1h-1zM695 92h1v1h-1zM19 93h1v1h-1zM138 93h1v1h-1zM655 93h1v1h-1zM695 93h1v1h-1zM18 94h1v1h-1zM139 94h1v1h-1zM654 94h1v1h-1zM696 94h1v1h-1zM17 95h1v1h-1zM139 95h1v1h-1zM653 95h1v1h-1zM696 95h1v1h-1zM16 96h1v1h-1zM140 96h1v1h-1zM651 96h2v1h-2zM697 96h1v1h-1zM15 97h1v1h-1zM140 97h1v1h-1zM650 97h1v1h-1zM697 97h1v1h-1zM14 98h1v1h-1zM141 98h1v1h-1zM648 98h2v1h-2zM698 98h1v1h-1zM13 99h1v1h-1zM142 99h1v1h-1zM647 99h1v1h-1zM698 99h1v1h-1zM722 99h2v1h-2zM12 100h1v1h-1zM143 100h2v1h-2zM476 100h6v1h-6zM645 100h2v1h-2zM699 100h1v1h-1zM720 100h2v1h-2zM724 100h4v1h-4zM11 101h1v1h-1zM145 101h1v1h-1zM475 101h1v1h-1zM482 101h1v1h-1zM644 101h1v1h-1zM700 101h1v1h-1zM719 101h1v1h-1zM728 101h2v1h-2zM10 102h1v1h-1zM146 102h1v1h-1zM472 102h3v1h-3zM483 102h2v1h-2zM643 102h1v1h-1zM701 102h1v1h-1zM717 102h2v1h-2zM730 102h3v1h-3zM9 103h1v1h-1zM147 103h1v1h-1zM471 103h1v1h-1zM485 103h1v1h-1zM642 103h1v1h-1zM702 103h1v1h-1zM716 103h1v1h-1zM733 103h1v1h-1zM8 104h1v1h-1zM148 104h1v1h-1zM469 104h2v1h-2zM486 104h3v1h-3zM641 104h1v1h-1zM703 104h1v1h-1zM715 104h1v1h-1zM734 104h3v1h-3zM7 105h1v1h-1zM149 105h1v1h-1zM468 105h1v1h-1zM489 105h1v1h-1zM639 105h2v1h-2zM704 105h2v1h-2zM714 105h1v1h-1zM737 105h4v1h-4zM6 106h1v1h-1zM150 106h1v1h-1zM467 106h1v1h-1zM490 106h1v1h-1zM637 106h2v1h-2zM706 106h2v1h-2zM711 106h3v1h-3zM741 106h1v1h-1zM5 107h1v1h-1zM151 107h1v1h-1zM466 107h1v1h-1zM491 107h1v1h-1zM635 107h2v1h-2zM708 107h3v1h-3zM742 107h1v1h-1zM152 108h1v1h-1zM302 108h7v1h-7zM465 108h1v1h-1zM492 108h1v1h-1zM618 108h6v1h-6zM633 108h2v1h-2zM743 108h1v1h-1zM153 109h1v1h-1zM296 109h6v1h-6zM309 109h4v1h-4zM464 109h1v1h-1zM493 109h1v1h-1zM617 109h1v1h-1zM624 109h3v1h-3zM631 109h2v1h-2zM744 109h1v1h-1zM154 110h1v1h-1zM293 110h3v1h-3zM313 110h2v1h-2zM464 110h1v1h-1zM494 110h2v1h-2zM616 110h1v1h-1zM627 110h4v1h-4zM745 110h2v1h-2zM155 111h1v1h-1zM291 111h2v1h-2zM315 111h1v1h-1zM463 111h1v1h-1zM496 111h1v1h-1zM615 111h1v1h-1zM747 111h1v1h-1zM155 112h1v1h-1zM289 112h2v1h-2zM315 112h1v1h-1zM462 112h1v1h-1zM497 112h2v1h-2zM614 112h1v1h-1zM748 112h1v1h-1zM156 113h1v1h-1zM287 113h2v1h-2zM316 113h1v1h-1zM434 113h2v1h-2zM461 113h1v1h-1zM499 113h1v1h-1zM613 113h1v1h-1zM749 113h1v1h-1zM156 114h1v1h-1zM285 114h2v1h-2zM317 114h1v1h-1zM432 114h2v1h-2zM436 114h3v1h-3zM460 114h1v1h-1zM500 114h3v1h-3zM610 114h3v1h-3zM750 114h2v1h-2zM157 115h1v1h-1zM284 115h1v1h-1zM317 115h1v1h-1zM430 115h2v1h-2zM439 115h1v1h-1zM459 115h1v1h-1zM503 115h1v1h-1zM609 115h1v1h-1zM752 115h1v1h-1zM157 116h1v1h-1zM283 116h1v1h-1zM318 116h1v1h-1zM429 116h1v1h-1zM440 116h3v1h-3zM457 116h2v1h-2zM504 116h2v1h-2zM607 116h2v1h-2zM753 116h1v1h-1zM158 117h1v1h-1zM282 117h1v1h-1zM318 117h1v1h-1zM428 117h1v1h-1zM443 117h1v1h-1zM456 117h1v1h-1zM506 117h1v1h-1zM606 117h1v1h-1zM754 117h1v1h-1zM159 118h1v1h-1zM282 118h1v1h-1zM319 118h1v1h-1zM428 118h1v1h-1zM444 118h2v1h-2zM454 118h2v1h-2zM506 118h1v1h-1zM604 118h2v1h-2zM755 118h1v1h-1zM159 119h1v1h-1zM281 119h1v1h-1zM320 119h1v1h-1zM427 119h1v1h-1zM446 119h2v1h-2zM452 119h2v1h-2zM507 119h1v1h-1zM603 119h1v1h-1zM756 119h1v1h-1zM160 120h1v1h-1zM280 120h1v1h-1zM320 120h1v1h-1zM426 120h1v1h-1zM448 120h4v1h-4zM508 120h1v1h-1zM588 120h7v1h-7zM601 120h2v1h-2zM757 120h2v1h-2zM161 121h1v1h-1zM279 121h1v1h-1zM321 121h1v1h-1zM426 121h1v1h-1zM509 121h2v1h-2zM587 121h1v1h-1zM595 121h6v1h-6zM759 121h1v1h-1zM162 122h1v1h-1zM279 122h1v1h-1zM322 122h1v1h-1zM425 122h1v1h-1zM511 122h2v1h-2zM586 122h1v1h-1zM760 122h1v1h-1zM162 123h1v1h-1zM278 123h1v1h-1zM322 123h1v1h-1zM424 123h1v1h-1zM513 123h1v1h-1zM585 123h1v1h-1zM761 123h1v1h-1zM163 124h1v1h-1zM277 124h1v1h-1zM323 124h1v1h-1zM423 124h1v1h-1zM514 124h4v1h-4zM583 124h2v1h-2zM762 124h1v1h-1zM164 125h1v1h-1zM277 125h1v1h-1zM324 125h1v1h-1zM423 125h1v1h-1zM518 125h3v1h-3zM526 125h6v1h-6zM582 125h1v1h-1zM763 125h1v1h-1zM164 126h1v1h-1zM276 126h1v1h-1zM325 126h1v1h-1zM422 126h1v1h-1zM521 126h5v1h-5zM532 126h3v1h-3zM580 126h2v1h-2zM764 126h1v1h-1zM165 127h1v1h-1zM276 127h1v1h-1zM325 127h1v1h-1zM421 127h1v1h-1zM535 127h2v1h-2zM579 127h1v1h-1zM764 127h1v1h-1zM166 128h1v1h-1zM275 128h1v1h-1zM326 128h1v1h-1zM420 128h1v1h-1zM537 128h3v1h-3zM577 128h2v1h-2zM765 128h1v1h-1zM166 129h1v1h-1zM275 129h1v1h-1zM327 129h1v1h-1zM419 129h1v1h-1zM540 129h1v1h-1zM576 129h1v1h-1zM765 129h1v1h-1zM167 130h1v1h-1zM274 130h1v1h-1zM328 130h1v1h-1zM419 130h1v1h-1zM541 130h2v1h-2zM575 130h1v1h-1zM766 130h1v1h-1zM168 131h1v1h-1zM190 131h1v1h-1zM274 131h1v1h-1zM329 131h1v1h-1zM418 131h1v1h-1zM543 131h2v1h-2zM574 131h1v1h-1zM767 131h1v1h-1zM169 132h1v1h-1zM188 132h2v1h-2zM191 132h1v1h-1zM273 132h1v1h-1zM330 132h1v1h-1zM417 132h1v1h-1zM545 132h2v1h-2zM573 132h1v1h-1zM767 132h1v1h-1zM169 133h1v1h-1zM180 133h3v1h-3zM186 133h2v1h-2zM192 133h1v1h-1zM273 133h1v1h-1zM330 133h1v1h-1zM415 133h2v1h-2zM547 133h2v1h-2zM572 133h1v1h-1zM768 133h1v1h-1zM170 134h10v1h-10zM183 134h3v1h-3zM193 134h1v1h-1zM272 134h1v1h-1zM331 134h1v1h-1zM405 134h3v1h-3zM414 134h1v1h-1zM549 134h7v1h-7zM571 134h1v1h-1zM768 134h1v1h-1zM194 135h2v1h-2zM208 135h4v1h-4zM217 135h6v1h-6zM272 135h1v1h-1zM332 135h1v1h-1zM404 135h1v1h-1zM408 135h3v1h-3zM413 135h1v1h-1zM556 135h3v1h-3zM570 135h1v1h-1zM769 135h1v1h-1zM196 136h3v1h-3zM204 136h4v1h-4zM212 136h5v1h-5zM223 136h3v1h-3zM271 136h1v1h-1zM333 136h2v1h-2zM402 136h2v1h-2zM411 136h2v1h-2zM559 136h5v1h-5zM567 136h3v1h-3zM770 136h1v1h-1zM199 137h2v1h-2zM203 137h1v1h-1zM226 137h2v1h-2zM271 137h1v1h-1zM335 137h1v1h-1zM401 137h1v1h-1zM564 137h3v1h-3zM771 137h1v1h-1zM201 138h2v1h-2zM228 138h9v1h-9zM270 138h1v1h-1zM336 138h13v1h-13zM398 138h3v1h-3zM771 138h1v1h-1zM237 139h2v1h-2zM270 139h1v1h-1zM349 139h1v1h-1zM397 139h1v1h-1zM772 139h1v1h-1zM239 140h3v1h-3zM269 140h1v1h-1zM350 140h3v1h-3zM395 140h2v1h-2zM773 140h1v1h-1zM242 141h2v1h-2zM268 141h1v1h-1zM353 141h2v1h-2zM394 141h1v1h-1zM774 141h1v1h-1zM244 142h3v1h-3zM268 142h1v1h-1zM355 142h1v1h-1zM393 142h1v1h-1zM774 142h1v1h-1zM247 143h2v1h-2zM267 143h1v1h-1zM356 143h1v1h-1zM391 143h2v1h-2zM774 143h1v1h-1zM249 144h3v1h-3zM266 144h1v1h-1zM357 144h1v1h-1zM379 144h7v1h-7zM389 144h2v1h-2zM775 144h1v1h-1zM252 145h1v1h-1zM266 145h1v1h-1zM358 145h1v1h-1zM377 145h2v1h-2zM386 145h3v1h-3zM776 145h1v1h-1zM253 146h3v1h-3zM265 146h1v1h-1zM359 146h2v1h-2zM374 146h3v1h-3zM776 146h1v1h-1zM256 147h1v1h-1zM263 147h2v1h-2zM361 147h1v1h-1zM372 147h2v1h-2zM777 147h1v1h-1zM257 148h6v1h-6zM362 148h10v1h-10zM778 148h1v1h-1zM778 149h1v1h-1zM779 150h1v1h-1zM828 150h7v1h-7zM780 151h1v1h-1zM798 151h3v1h-3zM826 151h2v1h-2zM835 151h2v1h-2zM781 152h2v1h-2zM795 152h3v1h-3zM801 152h4v1h-4zM824 152h2v1h-2zM837 152h1v1h-1zM783 153h1v1h-1zM794 153h1v1h-1zM805 153h1v1h-1zM822 153h2v1h-2zM838 153h1v1h-1zM784 154h2v1h-2zM789 154h5v1h-5zM806 154h16v1h-16zM839 154h2v1h-2zM786 155h3v1h-3zM841 155h1v1h-1zM842 156h1v1h-1zM842 157h1v1h-1zM843 158h1v1h-1zM844 159h1v1h-1zM845 160h1v1h-1zM846 161h1v1h-1zM846 162h1v1h-1zM847 163h1v1h-1zM848 164h1v1h-1zM849 165h1v1h-1zM850 166h1v1h-1zM850 167h1v1h-1zM851 168h1v1h-1zM852 169h1v1h-1zM853 170h1v1h-1zM854 171h1v1h-1zM854 172h1v1h-1zM855 173h1v1h-1zM856 174h1v1h-1zM857 175h2v1h-2zM859 176h1v1h-1zM905 176h1v1h-1zM860 177h1v1h-1zM904 177h1v1h-1zM906 177h1v1h-1zM861 178h1v1h-1zM903 178h1v1h-1zM907 178h1v1h-1zM862 179h1v1h-1zM902 179h1v1h-1zM908 179h1v1h-1zM863 180h2v1h-2zM901 180h1v1h-1zM908 180h1v1h-1zM865 181h1v1h-1zM900 181h1v1h-1zM908 181h1v1h-1zM866 182h1v1h-1zM899 182h1v1h-1zM909 182h1v1h-1zM867 183h1v1h-1zM899 183h1v1h-1zM910 183h1v1h-1zM868 184h1v1h-1zM898 184h1v1h-1zM910 184h1v1h-1zM869 185h1v1h-1zM898 185h1v1h-1zM910 185h1v1h-1zM870 186h1v1h-1zM897 186h1v1h-1zM911 186h1v1h-1zM870 187h1v1h-1zM896 187h1v1h-1zM912 187h1v1h-1zM871 188h1v1h-1zM896 188h1v1h-1zM912 188h1v1h-1zM872 189h1v1h-1zM895 189h1v1h-1zM913 189h1v1h-1zM1182 189h1v1h-1zM872 190h1v1h-1zM895 190h1v1h-1zM913 190h1v1h-1zM1181 190h1v1h-1zM872 191h1v1h-1zM894 191h1v1h-1zM914 191h1v1h-1zM1180 191h1v1h-1zM873 192h1v1h-1zM893 192h1v1h-1zM914 192h1v1h-1zM1179 192h1v1h-1zM874 193h1v1h-1zM893 193h1v1h-1zM915 193h1v1h-1zM1178 193h1v1h-1zM874 194h1v1h-1zM892 194h1v1h-1zM915 194h1v1h-1zM1176 194h2v1h-2zM874 195h1v1h-1zM892 195h1v1h-1zM915 195h1v1h-1zM1174 195h2v1h-2zM875 196h1v1h-1zM891 196h1v1h-1zM915 196h1v1h-1zM1172 196h2v1h-2zM876 197h1v1h-1zM890 197h1v1h-1zM916 197h1v1h-1zM1164 197h2v1h-2zM1171 197h1v1h-1zM876 198h1v1h-1zM890 198h1v1h-1zM916 198h1v1h-1zM1162 198h2v1h-2zM1166 198h3v1h-3zM1170 198h1v1h-1zM876 199h1v1h-1zM889 199h1v1h-1zM916 199h1v1h-1zM1161 199h1v1h-1zM1169 199h1v1h-1zM877 200h1v1h-1zM889 200h1v1h-1zM916 200h1v1h-1zM1161 200h1v1h-1zM878 201h1v1h-1zM888 201h1v1h-1zM917 201h1v1h-1zM1160 201h1v1h-1zM878 202h1v1h-1zM885 202h3v1h-3zM917 202h1v1h-1zM1159 202h1v1h-1zM879 203h1v1h-1zM884 203h1v1h-1zM917 203h1v1h-1zM1159 203h1v1h-1zM880 204h1v1h-1zM883 204h1v1h-1zM917 204h1v1h-1zM1158 204h1v1h-1zM881 205h1v1h-1zM883 205h1v1h-1zM918 205h1v1h-1zM1158 205h1v1h-1zM882 206h1v1h-1zM918 206h1v1h-1zM1157 206h1v1h-1zM918 207h1v1h-1zM1156 207h1v1h-1zM918 208h1v1h-1zM1156 208h1v1h-1zM918 209h1v1h-1zM1155 209h1v1h-1zM918 210h1v1h-1zM1126 210h1v1h-1zM1155 210h1v1h-1zM918 211h1v1h-1zM1125 211h1v1h-1zM1127 211h2v1h-2zM1154 211h1v1h-1zM919 212h1v1h-1zM1124 212h1v1h-1zM1129 212h1v1h-1zM1154 212h1v1h-1zM919 213h1v1h-1zM1124 213h1v1h-1zM1130 213h1v1h-1zM1153 213h1v1h-1zM919 214h1v1h-1zM1123 214h1v1h-1zM1130 214h1v1h-1zM1152 214h1v1h-1zM919 215h1v1h-1zM1122 215h1v1h-1zM1130 215h1v1h-1zM1152 215h1v1h-1zM919 216h1v1h-1zM1088 216h3v1h-3zM1119 216h3v1h-3zM1131 216h1v1h-1zM1152 216h1v1h-1zM919 217h1v1h-1zM1087 217h1v1h-1zM1091 217h1v1h-1zM1117 217h2v1h-2zM1132 217h1v1h-1zM1151 217h1v1h-1zM919 218h1v1h-1zM1086 218h1v1h-1zM1092 218h1v1h-1zM1116 218h1v1h-1zM1132 218h1v1h-1zM1150 218h1v1h-1zM919 219h1v1h-1zM1086 219h1v1h-1zM1092 219h1v1h-1zM1116 219h1v1h-1zM1133 219h1v1h-1zM1150 219h1v1h-1zM920 220h1v1h-1zM1085 220h1v1h-1zM1093 220h1v1h-1zM1115 220h1v1h-1zM1133 220h1v1h-1zM1150 220h1v1h-1zM920 221h1v1h-1zM1084 221h1v1h-1zM1094 221h1v1h-1zM1114 221h1v1h-1zM1134 221h1v1h-1zM1149 221h1v1h-1zM920 222h1v1h-1zM1084 222h1v1h-1zM1095 222h1v1h-1zM1114 222h1v1h-1zM1135 222h1v1h-1zM1148 222h1v1h-1zM920 223h1v1h-1zM1083 223h1v1h-1zM1096 223h1v1h-1zM1113 223h1v1h-1zM1136 223h1v1h-1zM1148 223h1v1h-1zM920 224h1v1h-1zM1083 224h1v1h-1zM1097 224h1v1h-1zM1112 224h1v1h-1zM1136 224h1v1h-1zM1147 224h1v1h-1zM920 225h1v1h-1zM1082 225h1v1h-1zM1098 225h1v1h-1zM1112 225h1v1h-1zM1137 225h1v1h-1zM1147 225h1v1h-1zM921 226h1v1h-1zM1082 226h1v1h-1zM1098 226h1v1h-1zM1112 226h1v1h-1zM1138 226h2v1h-2zM1146 226h1v1h-1zM921 227h1v1h-1zM1081 227h1v1h-1zM1099 227h1v1h-1zM1111 227h1v1h-1zM1140 227h1v1h-1zM1146 227h1v1h-1zM921 228h1v1h-1zM1080 228h1v1h-1zM1100 228h1v1h-1zM1110 228h1v1h-1zM1141 228h1v1h-1zM1144 228h2v1h-2zM921 229h1v1h-1zM1080 229h1v1h-1zM1101 229h1v1h-1zM1110 229h1v1h-1zM1142 229h2v1h-2zM921 230h1v1h-1zM1080 230h1v1h-1zM1101 230h1v1h-1zM1109 230h1v1h-1zM921 231h1v1h-1zM1079 231h1v1h-1zM1102 231h1v1h-1zM1109 231h1v1h-1zM922 232h1v1h-1zM1079 232h1v1h-1zM1103 232h1v1h-1zM1108 232h1v1h-1zM922 233h1v1h-1zM1078 233h1v1h-1zM1103 233h1v1h-1zM1107 233h1v1h-1zM922 234h1v1h-1zM1078 234h1v1h-1zM1104 234h3v1h-3zM922 235h1v1h-1zM1077 235h1v1h-1zM922 236h1v1h-1zM1077 236h1v1h-1zM922 237h1v1h-1zM1076 237h1v1h-1zM922 238h1v1h-1zM1076 238h1v1h-1zM923 239h1v1h-1zM1076 239h1v1h-1zM923 240h1v1h-1zM1075 240h1v1h-1zM923 241h1v1h-1zM1075 241h1v1h-1zM923 242h1v1h-1zM1074 242h1v1h-1zM923 243h1v1h-1zM1074 243h1v1h-1zM923 244h1v1h-1zM1074 244h1v1h-1zM924 245h1v1h-1zM1073 245h1v1h-1zM924 246h1v1h-1zM1073 246h1v1h-1zM924 247h1v1h-1zM1073 247h1v1h-1zM924 248h1v1h-1zM1072 248h1v1h-1zM924 249h1v1h-1zM1072 249h1v1h-1zM924 250h1v1h-1zM1072 250h1v1h-1zM925 251h1v1h-1zM1071 251h1v1h-1zM925 252h1v1h-1zM1031 252h5v1h-5zM1071 252h1v1h-1zM925 253h1v1h-1zM1029 253h2v1h-2zM1036 253h6v1h-6zM1070 253h1v1h-1zM925 254h1v1h-1zM1028 254h1v1h-1zM1042 254h3v1h-3zM1070 254h1v1h-1zM925 255h1v1h-1zM1028 255h1v1h-1zM1045 255h1v1h-1zM1067 255h3v1h-3zM925 256h1v1h-1zM1027 256h1v1h-1zM1046 256h3v1h-3zM1062 256h5v1h-5zM926 257h1v1h-1zM1027 257h1v1h-1zM1049 257h1v1h-1zM1059 257h3v1h-3zM926 258h1v1h-1zM1026 258h1v1h-1zM1050 258h3v1h-3zM1055 258h4v1h-4zM926 259h1v1h-1zM1026 259h1v1h-1zM1053 259h2v1h-2zM926 260h1v1h-1zM1025 260h1v1h-1zM926 261h1v1h-1zM1025 261h1v1h-1zM926 262h1v1h-1zM1024 262h1v1h-1zM926 263h1v1h-1zM1024 263h1v1h-1zM926 264h1v1h-1zM1023 264h1v1h-1zM927 265h1v1h-1zM1023 265h1v1h-1zM927 266h1v1h-1zM1022 266h1v1h-1zM927 267h1v1h-1zM1022 267h1v1h-1zM927 268h1v1h-1zM1022 268h1v1h-1zM927 269h1v1h-1zM1022 269h1v1h-1zM927 270h1v1h-1zM1021 270h1v1h-1zM927 271h1v1h-1zM1021 271h1v1h-1zM927 272h1v1h-1zM1021 272h1v1h-1zM927 273h1v1h-1zM1021 273h1v1h-1zM928 274h1v1h-1zM1020 274h1v1h-1zM928 275h1v1h-1zM1020 275h1v1h-1zM928 276h1v1h-1zM1020 276h1v1h-1zM928 277h1v1h-1zM1020 277h1v1h-1zM928 278h1v1h-1zM1019 278h1v1h-1zM928 279h1v1h-1zM1019 279h1v1h-1zM928 280h1v1h-1zM1019 280h1v1h-1zM929 281h1v1h-1zM1019 281h1v1h-1zM929 282h1v1h-1zM1019 282h1v1h-1zM929 283h1v1h-1zM1018 283h1v1h-1zM929 284h1v1h-1zM1018 284h1v1h-1zM929 285h1v1h-1zM1018 285h1v1h-1zM930 286h1v1h-1zM1018 286h1v1h-1zM930 287h1v1h-1zM1018 287h1v1h-1zM930 288h1v1h-1zM1017 288h1v1h-1zM930 289h1v1h-1zM1017 289h1v1h-1zM930 290h1v1h-1zM1017 290h1v1h-1zM930 291h1v1h-1zM1017 291h1v1h-1zM931 292h1v1h-1zM1017 292h1v1h-1zM931 293h1v1h-1zM1016 293h1v1h-1zM931 294h1v1h-1zM1016 294h1v1h-1zM931 295h1v1h-1zM1016 295h1v1h-1zM931 296h1v1h-1zM1016 296h1v1h-1zM932 297h1v1h-1zM1016 297h1v1h-1zM932 298h1v1h-1zM1015 298h1v1h-1zM932 299h1v1h-1zM1015 299h1v1h-1zM932 300h1v1h-1zM1015 300h1v1h-1zM932 301h1v1h-1zM1015 301h1v1h-1zM932 302h1v1h-1zM1015 302h1v1h-1zM932 303h1v1h-1zM1014 303h1v1h-1zM933 304h1v1h-1zM1014 304h1v1h-1zM933 305h1v1h-1zM1014 305h1v1h-1zM933 306h1v1h-1zM1014 306h1v1h-1zM933 307h1v1h-1zM1014 307h1v1h-1zM933 308h1v1h-1zM1013 308h1v1h-1zM933 309h1v1h-1zM1013 309h1v1h-1zM933 310h1v1h-1zM1013 310h1v1h-1zM934 311h1v1h-1zM1012 311h1v1h-1zM934 312h1v1h-1zM1012 312h1v1h-1zM934 313h1v1h-1zM1012 313h1v1h-1zM934 314h1v1h-1zM986 314h1v1h-1zM1012 314h1v1h-1zM934 315h1v1h-1zM984 315h2v1h-2zM987 315h1v1h-1zM1011 315h1v1h-1zM934 316h1v1h-1zM983 316h1v1h-1zM988 316h1v1h-1zM1011 316h1v1h-1zM934 317h1v1h-1zM983 317h1v1h-1zM988 317h1v1h-1zM1011 317h1v1h-1zM935 318h1v1h-1zM982 318h1v1h-1zM989 318h1v1h-1zM1011 318h1v1h-1zM935 319h1v1h-1zM982 319h1v1h-1zM989 319h1v1h-1zM1011 319h1v1h-1zM935 320h1v1h-1zM981 320h1v1h-1zM990 320h1v1h-1zM1011 320h1v1h-1zM935 321h1v1h-1zM981 321h1v1h-1zM990 321h1v1h-1zM1010 321h1v1h-1zM935 322h1v1h-1zM981 322h1v1h-1zM990 322h1v1h-1zM1010 322h1v1h-1zM935 323h1v1h-1zM980 323h1v1h-1zM991 323h1v1h-1zM1010 323h1v1h-1zM935 324h1v1h-1zM980 324h1v1h-1zM991 324h1v1h-1zM1010 324h1v1h-1zM935 325h1v1h-1zM979 325h1v1h-1zM992 325h1v1h-1zM1010 325h1v1h-1zM936 326h1v1h-1zM979 326h1v1h-1zM992 326h1v1h-1zM1009 326h1v1h-1zM936 327h1v1h-1zM978 327h1v1h-1zM992 327h1v1h-1zM1009 327h1v1h-1zM936 328h1v1h-1zM978 328h1v1h-1zM993 328h1v1h-1zM1009 328h1v1h-1zM936 329h1v1h-1zM978 329h1v1h-1zM993 329h1v1h-1zM1008 329h1v1h-1zM936 330h1v1h-1zM977 330h1v1h-1zM993 330h1v1h-1zM1008 330h1v1h-1zM936 331h1v1h-1zM977 331h1v1h-1zM994 331h1v1h-1zM1008 331h1v1h-1zM936 332h1v1h-1zM977 332h1v1h-1zM994 332h1v1h-1zM1008 332h1v1h-1zM936 333h1v1h-1zM976 333h1v1h-1zM995 333h1v1h-1zM1007 333h1v1h-1zM937 334h1v1h-1zM976 334h1v1h-1zM996 334h1v1h-1zM1006 334h1v1h-1zM937 335h1v1h-1zM976 335h1v1h-1zM996 335h1v1h-1zM1006 335h1v1h-1zM937 336h1v1h-1zM976 336h1v1h-1zM997 336h1v1h-1zM1006 336h1v1h-1zM937 337h1v1h-1zM975 337h1v1h-1zM998 337h2v1h-2zM1005 337h1v1h-1zM937 338h1v1h-1zM975 338h1v1h-1zM1000 338h2v1h-2zM1003 338h2v1h-2zM937 339h1v1h-1zM975 339h1v1h-1zM1002 339h1v1h-1zM937 340h1v1h-1zM975 340h1v1h-1zM938 341h1v1h-1zM974 341h1v1h-1zM938 342h1v1h-1zM974 342h1v1h-1zM938 343h1v1h-1zM974 343h1v1h-1zM938 344h1v1h-1zM974 344h1v1h-1zM938 345h1v1h-1zM974 345h1v1h-1zM938 346h1v1h-1zM973 346h1v1h-1zM938 347h1v1h-1zM973 347h1v1h-1zM939 348h1v1h-1zM973 348h1v1h-1zM939 349h1v1h-1zM973 349h1v1h-1zM939 350h1v1h-1zM972 350h1v1h-1zM939 351h1v1h-1zM972 351h1v1h-1zM940 352h1v1h-1zM972 352h1v1h-1zM940 353h1v1h-1zM972 353h1v1h-1zM940 354h1v1h-1zM972 354h1v1h-1zM940 355h1v1h-1zM971 355h1v1h-1zM941 356h1v1h-1zM971 356h1v1h-1zM941 357h1v1h-1zM971 357h1v1h-1zM941 358h1v1h-1zM971 358h1v1h-1zM941 359h1v1h-1zM970 359h1v1h-1zM942 360h1v1h-1zM970 360h1v1h-1zM942 361h1v1h-1zM970 361h1v1h-1zM942 362h1v1h-1zM970 362h1v1h-1zM942 363h1v1h-1zM969 363h1v1h-1zM942 364h1v1h-1zM969 364h1v1h-1zM943 365h1v1h-1zM969 365h1v1h-1zM943 366h1v1h-1zM969 366h1v1h-1zM943 367h1v1h-1zM969 367h1v1h-1zM944 368h1v1h-1zM968 368h1v1h-1zM944 369h1v1h-1zM968 369h1v1h-1zM944 370h1v1h-1zM968 370h1v1h-1zM944 371h1v1h-1zM968 371h1v1h-1zM944 372h1v1h-1zM967 372h1v1h-1zM945 373h1v1h-1zM967 373h1v1h-1zM945 374h1v1h-1zM967 374h1v1h-1zM945 375h1v1h-1zM967 375h1v1h-1zM945 376h1v1h-1zM967 376h1v1h-1zM945 377h1v1h-1zM966 377h1v1h-1zM946 378h1v1h-1zM966 378h1v1h-1zM946 379h1v1h-1zM966 379h1v1h-1zM946 380h1v1h-1zM966 380h1v1h-1zM946 381h1v1h-1zM966 381h1v1h-1zM947 382h1v1h-1zM965 382h1v1h-1zM947 383h1v1h-1zM965 383h1v1h-1zM947 384h1v1h-1zM965 384h1v1h-1zM947 385h1v1h-1zM965 385h1v1h-1zM948 386h1v1h-1zM964 386h1v1h-1zM948 387h1v1h-1zM964 387h1v1h-1zM948 388h1v1h-1zM964 388h1v1h-1zM948 389h1v1h-1zM963 389h1v1h-1zM949 390h1v1h-1zM963 390h1v1h-1zM949 391h1v1h-1zM963 391h1v1h-1zM949 392h1v1h-1zM962 392h1v1h-1zM950 393h1v1h-1zM962 393h1v1h-1zM950 394h1v1h-1zM961 394h1v1h-1zM950 395h1v1h-1zM960 395h1v1h-1zM950 396h1v1h-1zM960 396h1v1h-1zM950 397h1v1h-1zM959 397h1v1h-1zM951 398h1v1h-1zM958 398h1v1h-1zM951 399h1v1h-1zM957 399h1v1h-1zM951 400h1v1h-1zM957 400h1v1h-1zM952 401h1v1h-1zM956 401h1v1h-1zM952 402h1v1h-1zM955 402h1v1h-1zM953 403h2v1h-2zM953 404h1v1h-1z" fill="#ffa500" shape-rendering="crispEdges" />
<g shape-rendering="crispEdges">
<rect x="5" y="43" width="1484" height="2" fill="#ff0000"/>
<rect x="4" y="41" width="6" height="6" fill="#ff0000"/>
<rect x="6" y="43" width="2" height="2" fill="#fff"/>
<rect x="1483" y="41" width="6" height="6" fill="#ff0000"/>
<rect x="1485" y="43" width="2" height="2" fill="#fff"/>
<rect x="5" y="93" width="1484" height="2" fill="#ff0000"/>
<rect x="4" y="91" width="6" height="6" fill="#ff0000"/>
<rect x="6" y="93" width="2" height="2" fill="#fff"/>
<rect x="1483" y="91" width="6" height="6" fill="#ff0000"/>
<rect x="1485" y="93" width="2" height="2" fill="#fff"/>
<rect x="5" y="155" width="1484" height="2" fill="#ff0000"/>
<rect x="4" y="153" width="6" height="6" fill="#ff0000"/>
<rect x="6" y="155" width="2" height="2" fill="#fff"/>
<rect x="1483" y="153" width="6" height="6" fill="#ff0000"/>
<rect x="1485" y="155" width="2" height="2" fill="#fff"/>
<rect x="5" y="211" width="1484" height="2" fill="#00ff00"/>
<rect x="4" y="209" width="6" height="6" fill="#00ff00"/>
<rect x="6" y="211" width="2" height="2" fill="#fff"/>
<rect x="1483" y="209" width="6" height="6" fill="#00ff00"/>
<rect x="1485" y="211" width="2" height="2" fill="#fff"/>
<rect x="5" y="267" width="1484" height="2" fill="#0000ff"/>
<rect x="4" y="265" width="6" height="6" fill="#0000ff"/>
<rect x="6" y="267" width="2" height="2" fill="#fff"/>
<rect x="1483" y="265" width="6" height="6" fill="#0000ff"/>
<rect x="1485" y="267" width="2" height="2" fill="#fff"/>
<rect x="5" y="322" width="1484" height="2" fill="#0000ff"/>
</g>
<g shape-rendering="crispEdges" fill="#000">
<rect x="1490" y="37" width="2" height="1"/>
<rect x="1490" y="70" width="2" height="1"/>
<rect x="1490" y="103" width="2" height="1"/>
<rect x="1490" y="136" width="2" height="1"/>
<rect x="1490" y="169" width="2" height="1"/>
<rect x="1490" y="202" width="2" height="1"/>
<rect x="1490" y="235" width="2" height="1"/>
<rect x="1490" y="301" width="2" height="1"/>
<rect x="1490" y="334" width="2" height="1"/>
<rect x="1490" y="367" width="2" height="1"/>
<rect x="1490" y="400" width="2" height="1"/>
<rect x="1490" y="433" width="2" height="1"/>
<rect x="1490" y="466" width="2" height="1"/>
<rect x="1490" y="499" width="2" height="1"/>
</g>
<text x="1495" y="40.5" font-size="9.2" fill="#000" textLength="33" lengthAdjust="spacingAndGlyphs" stroke="#000" stroke-width="0.15" >0.71245</text>
<text x="1495" y="73.5" font-size="9.2" fill="#000" textLength="33" lengthAdjust="spacingAndGlyphs" stroke="#000" stroke-width="0.15" >0.70090</text>
<text x="1495" y="106.5" font-size="9.2" fill="#000" textLength="33" lengthAdjust="spacingAndGlyphs" stroke="#000" stroke-width="0.15" >0.68900</text>
<text x="1495" y="139.5" font-size="9.2" fill="#000" textLength="33" lengthAdjust="spacingAndGlyphs" stroke="#000" stroke-width="0.15" >0.67745</text>
<text x="1495" y="172.5" font-size="9.2" fill="#000" textLength="33" lengthAdjust="spacingAndGlyphs" stroke="#000" stroke-width="0.15" >0.66555</text>
<text x="1495" y="205.5" font-size="9.2" fill="#000" textLength="33" lengthAdjust="spacingAndGlyphs" stroke="#000" stroke-width="0.15" >0.65365</text>
<text x="1495" y="238.5" font-size="9.2" fill="#000" textLength="33" lengthAdjust="spacingAndGlyphs" stroke="#000" stroke-width="0.15" >0.64210</text>
<text x="1495" y="304.5" font-size="9.2" fill="#000" textLength="33" lengthAdjust="spacingAndGlyphs" stroke="#000" stroke-width="0.15" >0.61830</text>
<text x="1495" y="337.5" font-size="9.2" fill="#000" textLength="33" lengthAdjust="spacingAndGlyphs" stroke="#000" stroke-width="0.15" >0.60675</text>
<text x="1495" y="370.5" font-size="9.2" fill="#000" textLength="33" lengthAdjust="spacingAndGlyphs" stroke="#000" stroke-width="0.15" >0.59485</text>
<text x="1495" y="403.5" font-size="9.2" fill="#000" textLength="33" lengthAdjust="spacingAndGlyphs" stroke="#000" stroke-width="0.15" >0.58295</text>
<text x="1495" y="436.5" font-size="9.2" fill="#000" textLength="33" lengthAdjust="spacingAndGlyphs" stroke="#000" stroke-width="0.15" >0.57140</text>
<text x="1495" y="469.5" font-size="9.2" fill="#000" textLength="33" lengthAdjust="spacingAndGlyphs" stroke="#000" stroke-width="0.15" >0.55950</text>
<text x="1495" y="502.5" font-size="9.2" fill="#000" textLength="33" lengthAdjust="spacingAndGlyphs" stroke="#000" stroke-width="0.15" >0.54795</text>
<g shape-rendering="crispEdges">
<rect x="1491" y="38" width="41" height="11" fill="#ff0000"/>
<rect x="1491" y="88" width="41" height="11" fill="#ff0000"/>
<rect x="1491" y="150" width="41" height="11" fill="#ff0000"/>
<rect x="1491" y="206" width="41" height="11" fill="#00ff00"/>
<rect x="1491" y="262" width="41" height="11" fill="#0000ff"/>
<rect x="1491" y="317" width="41" height="11" fill="#0000ff"/>
<rect x="1491" y="173" width="41" height="11" fill="#000"/>
</g>
<text x="1495" y="46.8" font-size="9.2" fill="#fff" textLength="33" lengthAdjust="spacingAndGlyphs" stroke="#fff" stroke-width="0.15" >0.71016</text>
<text x="1495" y="96.8" font-size="9.2" fill="#fff" textLength="33" lengthAdjust="spacingAndGlyphs" stroke="#fff" stroke-width="0.15" >0.69218</text>
<text x="1495" y="158.8" font-size="9.2" fill="#fff" textLength="33" lengthAdjust="spacingAndGlyphs" stroke="#fff" stroke-width="0.15" >0.67003</text>
<text x="1495" y="214.8" font-size="9.2" fill="#fff" textLength="33" lengthAdjust="spacingAndGlyphs" stroke="#fff" stroke-width="0.15" >0.65024</text>
<text x="1495" y="270.8" font-size="9.2" fill="#fff" textLength="33" lengthAdjust="spacingAndGlyphs" stroke="#fff" stroke-width="0.15" >0.63011</text>
<text x="1495" y="325.8" font-size="9.2" fill="#fff" textLength="33" lengthAdjust="spacingAndGlyphs" stroke="#fff" stroke-width="0.15" >0.61065</text>
<text x="1495" y="181.5" font-size="9.2" fill="#fff" textLength="33" lengthAdjust="spacingAndGlyphs" stroke="#fff" stroke-width="0.15" >0.66244</text>
<path d="M8 33.5 L15.5 33.5 L11.75 37.8 Z" fill="#000"/>
<text x="20.7" y="38" font-size="9.3" fill="#000" textLength="65.3" lengthAdjust="spacingAndGlyphs" stroke="#000" stroke-width="0.15" >AUDUSD,Daily</text>
<text x="92.2" y="38" font-size="9.3" fill="#000" textLength="140.5" lengthAdjust="spacingAndGlyphs" stroke="#000" stroke-width="0.15" >0.65887 0.66282 0.65836 0.66244</text>
<g shape-rendering="crispEdges">
<line x1="6" y1="531.5" x2="1489" y2="531.5" stroke="#c0c0c0" stroke-width="1" stroke-dasharray="3,3"/>
<line x1="6" y1="565.5" x2="1489" y2="565.5" stroke="#c0c0c0" stroke-width="1" stroke-dasharray="3,3"/>
</g>
<path d="M670 526h1v1h-1zM668 527h2v1h-2zM671 527h1v1h-1zM666 528h2v1h-2zM672 528h2v1h-2zM665 529h1v1h-1zM674 529h1v1h-1zM657 530h3v1h-3zM662 530h3v1h-3zM675 530h1v1h-1zM656 531h1v1h-1zM660 531h2v1h-2zM676 531h1v1h-1zM655 532h1v1h-1zM677 532h1v1h-1zM466 533h1v1h-1zM655 533h1v1h-1zM678 533h1v1h-1zM36 534h2v1h-2zM464 534h2v1h-2zM467 534h3v1h-3zM654 534h1v1h-1zM678 534h1v1h-1zM1082 534h3v1h-3zM34 535h2v1h-2zM37 535h1v1h-1zM463 535h1v1h-1zM470 535h1v1h-1zM606 535h1v1h-1zM652 535h2v1h-2zM679 535h1v1h-1zM1028 535h2v1h-2zM1081 535h1v1h-1zM1085 535h1v1h-1zM1174 535h1v1h-1zM31 536h3v1h-3zM38 536h1v1h-1zM282 536h1v1h-1zM461 536h2v1h-2zM471 536h3v1h-3zM605 536h1v1h-1zM607 536h1v1h-1zM650 536h2v1h-2zM679 536h1v1h-1zM1026 536h2v1h-2zM1030 536h1v1h-1zM1078 536h3v1h-3zM1086 536h1v1h-1zM1153 536h1v1h-1zM1173 536h1v1h-1zM1175 536h1v1h-1zM28 537h3v1h-3zM38 537h1v1h-1zM50 537h1v1h-1zM280 537h2v1h-2zM283 537h2v1h-2zM296 537h5v1h-5zM423 537h7v1h-7zM459 537h2v1h-2zM474 537h2v1h-2zM605 537h1v1h-1zM607 537h1v1h-1zM618 537h1v1h-1zM644 537h6v1h-6zM679 537h1v1h-1zM1024 537h2v1h-2zM1030 537h1v1h-1zM1077 537h1v1h-1zM1086 537h1v1h-1zM1151 537h2v1h-2zM1154 537h1v1h-1zM1173 537h1v1h-1zM1175 537h1v1h-1zM26 538h2v1h-2zM38 538h1v1h-1zM49 538h1v1h-1zM51 538h2v1h-2zM274 538h2v1h-2zM278 538h2v1h-2zM285 538h2v1h-2zM293 538h3v1h-3zM301 538h2v1h-2zM418 538h5v1h-5zM430 538h2v1h-2zM455 538h4v1h-4zM476 538h8v1h-8zM604 538h1v1h-1zM608 538h1v1h-1zM617 538h2v1h-2zM634 538h2v1h-2zM639 538h5v1h-5zM680 538h1v1h-1zM1020 538h4v1h-4zM1031 538h1v1h-1zM1075 538h2v1h-2zM1086 538h1v1h-1zM1112 538h5v1h-5zM1150 538h1v1h-1zM1155 538h1v1h-1zM1172 538h1v1h-1zM1176 538h1v1h-1zM1181 538h1v1h-1zM23 539h3v1h-3zM39 539h1v1h-1zM48 539h1v1h-1zM53 539h1v1h-1zM89 539h1v1h-1zM101 539h13v1h-13zM273 539h1v1h-1zM276 539h2v1h-2zM287 539h2v1h-2zM291 539h2v1h-2zM303 539h1v1h-1zM416 539h2v1h-2zM432 539h1v1h-1zM454 539h1v1h-1zM484 539h1v1h-1zM603 539h1v1h-1zM608 539h1v1h-1zM615 539h2v1h-2zM619 539h1v1h-1zM633 539h1v1h-1zM636 539h3v1h-3zM680 539h1v1h-1zM1017 539h3v1h-3zM1031 539h1v1h-1zM1073 539h2v1h-2zM1087 539h1v1h-1zM1110 539h2v1h-2zM1117 539h1v1h-1zM1149 539h1v1h-1zM1156 539h1v1h-1zM1171 539h1v1h-1zM1177 539h1v1h-1zM1180 539h1v1h-1zM21 540h2v1h-2zM39 540h1v1h-1zM47 540h1v1h-1zM54 540h1v1h-1zM86 540h3v1h-3zM90 540h1v1h-1zM100 540h1v1h-1zM114 540h1v1h-1zM272 540h1v1h-1zM289 540h2v1h-2zM304 540h2v1h-2zM414 540h2v1h-2zM433 540h1v1h-1zM452 540h2v1h-2zM485 540h2v1h-2zM577 540h1v1h-1zM603 540h1v1h-1zM609 540h3v1h-3zM614 540h1v1h-1zM619 540h1v1h-1zM632 540h1v1h-1zM680 540h1v1h-1zM1014 540h3v1h-3zM1032 540h1v1h-1zM1048 540h2v1h-2zM1071 540h2v1h-2zM1088 540h1v1h-1zM1109 540h1v1h-1zM1118 540h2v1h-2zM1147 540h2v1h-2zM1157 540h1v1h-1zM1171 540h1v1h-1zM1177 540h1v1h-1zM1179 540h1v1h-1zM19 541h2v1h-2zM39 541h1v1h-1zM46 541h1v1h-1zM54 541h1v1h-1zM85 541h1v1h-1zM91 541h2v1h-2zM99 541h1v1h-1zM114 541h1v1h-1zM271 541h1v1h-1zM306 541h1v1h-1zM413 541h1v1h-1zM434 541h1v1h-1zM451 541h1v1h-1zM486 541h1v1h-1zM576 541h1v1h-1zM578 541h1v1h-1zM602 541h1v1h-1zM612 541h2v1h-2zM620 541h1v1h-1zM631 541h1v1h-1zM681 541h1v1h-1zM1013 541h1v1h-1zM1032 541h1v1h-1zM1045 541h3v1h-3zM1050 541h1v1h-1zM1062 541h2v1h-2zM1069 541h2v1h-2zM1088 541h1v1h-1zM1108 541h1v1h-1zM1120 541h1v1h-1zM1146 541h1v1h-1zM1158 541h2v1h-2zM1169 541h2v1h-2zM1178 541h1v1h-1zM18 542h1v1h-1zM40 542h1v1h-1zM45 542h1v1h-1zM55 542h1v1h-1zM83 542h2v1h-2zM93 542h1v1h-1zM98 542h1v1h-1zM115 542h1v1h-1zM270 542h1v1h-1zM307 542h3v1h-3zM413 542h1v1h-1zM434 542h1v1h-1zM450 542h1v1h-1zM487 542h1v1h-1zM574 542h2v1h-2zM578 542h1v1h-1zM601 542h1v1h-1zM620 542h1v1h-1zM629 542h2v1h-2zM681 542h3v1h-3zM1012 542h1v1h-1zM1033 542h2v1h-2zM1041 542h4v1h-4zM1050 542h1v1h-1zM1061 542h1v1h-1zM1064 542h5v1h-5zM1088 542h1v1h-1zM1100 542h3v1h-3zM1108 542h1v1h-1zM1121 542h1v1h-1zM1124 542h3v1h-3zM1145 542h1v1h-1zM1160 542h2v1h-2zM1164 542h5v1h-5zM17 543h1v1h-1zM40 543h1v1h-1zM44 543h1v1h-1zM55 543h1v1h-1zM82 543h1v1h-1zM94 543h4v1h-4zM115 543h1v1h-1zM269 543h1v1h-1zM310 543h1v1h-1zM412 543h1v1h-1zM435 543h1v1h-1zM448 543h2v1h-2zM488 543h1v1h-1zM573 543h1v1h-1zM579 543h1v1h-1zM601 543h1v1h-1zM621 543h1v1h-1zM628 543h1v1h-1zM684 543h3v1h-3zM1011 543h1v1h-1zM1035 543h2v1h-2zM1040 543h1v1h-1zM1051 543h1v1h-1zM1060 543h1v1h-1zM1089 543h3v1h-3zM1099 543h1v1h-1zM1103 543h2v1h-2zM1107 543h1v1h-1zM1122 543h2v1h-2zM1127 543h1v1h-1zM1145 543h1v1h-1zM1162 543h2v1h-2zM16 544h1v1h-1zM40 544h1v1h-1zM43 544h1v1h-1zM56 544h1v1h-1zM80 544h2v1h-2zM116 544h1v1h-1zM268 544h1v1h-1zM311 544h2v1h-2zM393 544h5v1h-5zM412 544h1v1h-1zM436 544h1v1h-1zM440 544h3v1h-3zM447 544h1v1h-1zM488 544h1v1h-1zM572 544h1v1h-1zM580 544h1v1h-1zM585 544h8v1h-8zM600 544h1v1h-1zM621 544h1v1h-1zM625 544h3v1h-3zM687 544h1v1h-1zM1009 544h2v1h-2zM1037 544h3v1h-3zM1051 544h1v1h-1zM1059 544h1v1h-1zM1092 544h7v1h-7zM1105 544h2v1h-2zM1128 544h2v1h-2zM1144 544h1v1h-1zM16 545h1v1h-1zM41 545h2v1h-2zM56 545h1v1h-1zM79 545h1v1h-1zM116 545h1v1h-1zM267 545h1v1h-1zM313 545h1v1h-1zM392 545h1v1h-1zM398 545h1v1h-1zM411 545h1v1h-1zM436 545h1v1h-1zM439 545h1v1h-1zM443 545h1v1h-1zM446 545h1v1h-1zM488 545h1v1h-1zM571 545h1v1h-1zM580 545h1v1h-1zM583 545h2v1h-2zM593 545h1v1h-1zM600 545h1v1h-1zM622 545h1v1h-1zM624 545h1v1h-1zM688 545h1v1h-1zM1008 545h1v1h-1zM1052 545h1v1h-1zM1057 545h2v1h-2zM1130 545h1v1h-1zM1144 545h1v1h-1zM15 546h1v1h-1zM41 546h1v1h-1zM57 546h1v1h-1zM61 546h3v1h-3zM77 546h2v1h-2zM117 546h1v1h-1zM266 546h1v1h-1zM313 546h1v1h-1zM391 546h1v1h-1zM399 546h1v1h-1zM411 546h1v1h-1zM437 546h2v1h-2zM444 546h2v1h-2zM489 546h2v1h-2zM570 546h1v1h-1zM581 546h2v1h-2zM594 546h1v1h-1zM599 546h1v1h-1zM622 546h2v1h-2zM689 546h1v1h-1zM1006 546h2v1h-2zM1052 546h1v1h-1zM1055 546h2v1h-2zM1131 546h2v1h-2zM1143 546h1v1h-1zM14 547h1v1h-1zM57 547h1v1h-1zM60 547h1v1h-1zM64 547h1v1h-1zM75 547h2v1h-2zM117 547h1v1h-1zM265 547h1v1h-1zM314 547h1v1h-1zM391 547h1v1h-1zM399 547h1v1h-1zM411 547h1v1h-1zM491 547h2v1h-2zM569 547h1v1h-1zM594 547h1v1h-1zM599 547h1v1h-1zM690 547h1v1h-1zM904 547h3v1h-3zM1005 547h1v1h-1zM1053 547h2v1h-2zM1133 547h1v1h-1zM1143 547h1v1h-1zM11 548h3v1h-3zM58 548h2v1h-2zM65 548h2v1h-2zM73 548h2v1h-2zM118 548h1v1h-1zM264 548h1v1h-1zM314 548h1v1h-1zM390 548h1v1h-1zM400 548h1v1h-1zM410 548h1v1h-1zM493 548h7v1h-7zM569 548h1v1h-1zM595 548h1v1h-1zM598 548h1v1h-1zM690 548h1v1h-1zM707 548h4v1h-4zM900 548h4v1h-4zM906 548h1v1h-1zM1005 548h1v1h-1zM1134 548h9v1h-9zM8 549h3v1h-3zM67 549h1v1h-1zM72 549h1v1h-1zM119 549h1v1h-1zM263 549h1v1h-1zM315 549h1v1h-1zM373 549h1v1h-1zM389 549h1v1h-1zM401 549h2v1h-2zM410 549h1v1h-1zM500 549h2v1h-2zM569 549h1v1h-1zM596 549h1v1h-1zM598 549h1v1h-1zM691 549h1v1h-1zM705 549h2v1h-2zM711 549h13v1h-13zM899 549h1v1h-1zM907 549h1v1h-1zM974 549h1v1h-1zM1004 549h1v1h-1zM5 550h3v1h-3zM67 550h1v1h-1zM72 550h1v1h-1zM120 550h1v1h-1zM263 550h1v1h-1zM315 550h1v1h-1zM370 550h3v1h-3zM374 550h1v1h-1zM388 550h1v1h-1zM403 550h2v1h-2zM409 550h1v1h-1zM502 550h2v1h-2zM526 550h1v1h-1zM568 550h1v1h-1zM597 550h1v1h-1zM691 550h1v1h-1zM704 550h1v1h-1zM724 550h2v1h-2zM896 550h3v1h-3zM907 550h1v1h-1zM973 550h1v1h-1zM975 550h2v1h-2zM1003 550h1v1h-1zM68 551h1v1h-1zM72 551h1v1h-1zM120 551h1v1h-1zM262 551h1v1h-1zM316 551h1v1h-1zM369 551h1v1h-1zM375 551h1v1h-1zM388 551h1v1h-1zM405 551h5v1h-5zM504 551h1v1h-1zM525 551h1v1h-1zM527 551h1v1h-1zM568 551h1v1h-1zM692 551h1v1h-1zM704 551h1v1h-1zM726 551h1v1h-1zM895 551h1v1h-1zM907 551h1v1h-1zM972 551h1v1h-1zM977 551h1v1h-1zM1002 551h1v1h-1zM69 552h1v1h-1zM71 552h1v1h-1zM121 552h1v1h-1zM262 552h1v1h-1zM316 552h1v1h-1zM334 552h1v1h-1zM366 552h3v1h-3zM375 552h1v1h-1zM388 552h1v1h-1zM505 552h1v1h-1zM523 552h2v1h-2zM528 552h1v1h-1zM568 552h1v1h-1zM692 552h1v1h-1zM704 552h1v1h-1zM727 552h1v1h-1zM817 552h2v1h-2zM886 552h9v1h-9zM907 552h1v1h-1zM970 552h2v1h-2zM978 552h7v1h-7zM1002 552h1v1h-1zM69 553h2v1h-2zM122 553h1v1h-1zM261 553h1v1h-1zM317 553h1v1h-1zM333 553h2v1h-2zM365 553h1v1h-1zM376 553h1v1h-1zM387 553h1v1h-1zM505 553h1v1h-1zM522 553h1v1h-1zM528 553h1v1h-1zM568 553h1v1h-1zM693 553h1v1h-1zM703 553h1v1h-1zM728 553h2v1h-2zM816 553h1v1h-1zM819 553h2v1h-2zM886 553h1v1h-1zM908 553h1v1h-1zM969 553h1v1h-1zM985 553h2v1h-2zM1001 553h1v1h-1zM70 554h1v1h-1zM123 554h1v1h-1zM217 554h1v1h-1zM233 554h2v1h-2zM261 554h1v1h-1zM317 554h1v1h-1zM332 554h1v1h-1zM335 554h1v1h-1zM365 554h1v1h-1zM377 554h2v1h-2zM386 554h1v1h-1zM506 554h1v1h-1zM514 554h8v1h-8zM529 554h2v1h-2zM567 554h1v1h-1zM693 554h1v1h-1zM702 554h1v1h-1zM730 554h7v1h-7zM816 554h1v1h-1zM821 554h3v1h-3zM885 554h1v1h-1zM908 554h1v1h-1zM968 554h1v1h-1zM987 554h2v1h-2zM1000 554h1v1h-1zM124 555h1v1h-1zM215 555h2v1h-2zM218 555h2v1h-2zM232 555h1v1h-1zM235 555h2v1h-2zM260 555h1v1h-1zM318 555h1v1h-1zM331 555h1v1h-1zM336 555h1v1h-1zM364 555h1v1h-1zM379 555h2v1h-2zM385 555h2v1h-2zM506 555h1v1h-1zM513 555h1v1h-1zM531 555h1v1h-1zM567 555h1v1h-1zM694 555h1v1h-1zM702 555h1v1h-1zM737 555h4v1h-4zM815 555h1v1h-1zM824 555h1v1h-1zM885 555h1v1h-1zM908 555h1v1h-1zM967 555h1v1h-1zM989 555h2v1h-2zM999 555h1v1h-1zM125 556h1v1h-1zM197 556h3v1h-3zM204 556h3v1h-3zM213 556h2v1h-2zM220 556h1v1h-1zM232 556h1v1h-1zM237 556h3v1h-3zM260 556h1v1h-1zM319 556h2v1h-2zM329 556h2v1h-2zM336 556h1v1h-1zM343 556h8v1h-8zM364 556h1v1h-1zM381 556h4v1h-4zM506 556h1v1h-1zM513 556h1v1h-1zM532 556h4v1h-4zM549 556h3v1h-3zM567 556h1v1h-1zM695 556h3v1h-3zM702 556h1v1h-1zM741 556h2v1h-2zM814 556h1v1h-1zM825 556h3v1h-3zM831 556h3v1h-3zM885 556h1v1h-1zM908 556h1v1h-1zM966 556h1v1h-1zM991 556h2v1h-2zM999 556h1v1h-1zM126 557h1v1h-1zM197 557h1v1h-1zM200 557h4v1h-4zM207 557h2v1h-2zM211 557h2v1h-2zM221 557h2v1h-2zM231 557h1v1h-1zM240 557h2v1h-2zM259 557h1v1h-1zM321 557h2v1h-2zM327 557h2v1h-2zM336 557h1v1h-1zM340 557h3v1h-3zM351 557h2v1h-2zM364 557h1v1h-1zM507 557h1v1h-1zM512 557h1v1h-1zM536 557h4v1h-4zM548 557h1v1h-1zM552 557h2v1h-2zM567 557h1v1h-1zM698 557h4v1h-4zM743 557h1v1h-1zM814 557h1v1h-1zM828 557h3v1h-3zM834 557h2v1h-2zM884 557h1v1h-1zM909 557h1v1h-1zM965 557h1v1h-1zM993 557h6v1h-6zM127 558h1v1h-1zM190 558h1v1h-1zM196 558h1v1h-1zM209 558h2v1h-2zM223 558h1v1h-1zM229 558h2v1h-2zM242 558h3v1h-3zM259 558h1v1h-1zM323 558h4v1h-4zM337 558h3v1h-3zM353 558h1v1h-1zM363 558h1v1h-1zM507 558h1v1h-1zM512 558h1v1h-1zM540 558h4v1h-4zM548 558h1v1h-1zM554 558h2v1h-2zM566 558h1v1h-1zM744 558h1v1h-1zM749 558h2v1h-2zM813 558h1v1h-1zM836 558h2v1h-2zM884 558h1v1h-1zM909 558h1v1h-1zM913 558h1v1h-1zM965 558h1v1h-1zM128 559h1v1h-1zM190 559h2v1h-2zM196 559h1v1h-1zM224 559h2v1h-2zM228 559h1v1h-1zM245 559h4v1h-4zM258 559h1v1h-1zM354 559h1v1h-1zM363 559h1v1h-1zM508 559h1v1h-1zM511 559h1v1h-1zM544 559h1v1h-1zM547 559h1v1h-1zM556 559h1v1h-1zM566 559h1v1h-1zM745 559h1v1h-1zM747 559h2v1h-2zM751 559h1v1h-1zM793 559h2v1h-2zM813 559h1v1h-1zM838 559h1v1h-1zM884 559h1v1h-1zM909 559h1v1h-1zM912 559h2v1h-2zM964 559h1v1h-1zM129 560h9v1h-9zM173 560h2v1h-2zM189 560h1v1h-1zM191 560h1v1h-1zM196 560h1v1h-1zM226 560h2v1h-2zM249 560h6v1h-6zM258 560h1v1h-1zM355 560h1v1h-1zM363 560h1v1h-1zM508 560h1v1h-1zM511 560h1v1h-1zM545 560h2v1h-2zM557 560h10v1h-10zM746 560h1v1h-1zM752 560h3v1h-3zM792 560h1v1h-1zM795 560h3v1h-3zM812 560h1v1h-1zM839 560h1v1h-1zM883 560h1v1h-1zM909 560h1v1h-1zM912 560h1v1h-1zM914 560h1v1h-1zM963 560h1v1h-1zM138 561h1v1h-1zM145 561h1v1h-1zM173 561h1v1h-1zM175 561h1v1h-1zM188 561h1v1h-1zM192 561h1v1h-1zM195 561h1v1h-1zM255 561h3v1h-3zM355 561h1v1h-1zM362 561h1v1h-1zM508 561h1v1h-1zM510 561h1v1h-1zM755 561h2v1h-2zM792 561h1v1h-1zM798 561h1v1h-1zM812 561h1v1h-1zM840 561h1v1h-1zM883 561h1v1h-1zM910 561h2v1h-2zM914 561h1v1h-1zM963 561h1v1h-1zM139 562h1v1h-1zM144 562h1v1h-1zM146 562h3v1h-3zM172 562h1v1h-1zM176 562h4v1h-4zM188 562h1v1h-1zM193 562h1v1h-1zM195 562h1v1h-1zM356 562h1v1h-1zM362 562h1v1h-1zM509 562h2v1h-2zM757 562h2v1h-2zM791 562h1v1h-1zM798 562h1v1h-1zM811 562h1v1h-1zM841 562h1v1h-1zM883 562h1v1h-1zM910 562h1v1h-1zM915 562h1v1h-1zM961 562h2v1h-2zM139 563h1v1h-1zM143 563h1v1h-1zM149 563h1v1h-1zM172 563h1v1h-1zM180 563h3v1h-3zM188 563h1v1h-1zM193 563h2v1h-2zM357 563h1v1h-1zM362 563h1v1h-1zM509 563h1v1h-1zM759 563h1v1h-1zM790 563h1v1h-1zM799 563h1v1h-1zM811 563h1v1h-1zM842 563h1v1h-1zM882 563h1v1h-1zM915 563h1v1h-1zM960 563h1v1h-1zM140 564h1v1h-1zM142 564h1v1h-1zM150 564h1v1h-1zM172 564h1v1h-1zM183 564h2v1h-2zM187 564h1v1h-1zM194 564h1v1h-1zM358 564h4v1h-4zM759 564h1v1h-1zM790 564h1v1h-1zM800 564h1v1h-1zM810 564h1v1h-1zM843 564h1v1h-1zM880 564h3v1h-3zM916 564h1v1h-1zM958 564h2v1h-2zM141 565h1v1h-1zM150 565h1v1h-1zM171 565h1v1h-1zM185 565h2v1h-2zM361 565h1v1h-1zM760 565h1v1h-1zM789 565h1v1h-1zM800 565h1v1h-1zM810 565h1v1h-1zM843 565h1v1h-1zM877 565h3v1h-3zM916 565h1v1h-1zM958 565h1v1h-1zM151 566h1v1h-1zM171 566h1v1h-1zM186 566h1v1h-1zM760 566h1v1h-1zM788 566h1v1h-1zM801 566h3v1h-3zM809 566h1v1h-1zM844 566h1v1h-1zM847 566h9v1h-9zM877 566h1v1h-1zM917 566h1v1h-1zM957 566h1v1h-1zM152 567h1v1h-1zM171 567h1v1h-1zM761 567h1v1h-1zM788 567h1v1h-1zM804 567h6v1h-6zM845 567h2v1h-2zM856 567h1v1h-1zM876 567h1v1h-1zM917 567h1v1h-1zM957 567h1v1h-1zM152 568h1v1h-1zM170 568h1v1h-1zM761 568h1v1h-1zM788 568h1v1h-1zM857 568h3v1h-3zM869 568h1v1h-1zM876 568h1v1h-1zM918 568h1v1h-1zM957 568h1v1h-1zM153 569h2v1h-2zM170 569h1v1h-1zM762 569h3v1h-3zM787 569h1v1h-1zM860 569h1v1h-1zM868 569h1v1h-1zM870 569h1v1h-1zM876 569h1v1h-1zM918 569h1v1h-1zM956 569h1v1h-1zM155 570h5v1h-5zM170 570h1v1h-1zM765 570h5v1h-5zM786 570h1v1h-1zM861 570h1v1h-1zM868 570h1v1h-1zM870 570h1v1h-1zM875 570h1v1h-1zM919 570h3v1h-3zM956 570h1v1h-1zM160 571h5v1h-5zM169 571h1v1h-1zM770 571h2v1h-2zM786 571h1v1h-1zM862 571h1v1h-1zM868 571h1v1h-1zM870 571h1v1h-1zM875 571h1v1h-1zM922 571h1v1h-1zM956 571h1v1h-1zM165 572h5v1h-5zM772 572h2v1h-2zM786 572h1v1h-1zM863 572h2v1h-2zM867 572h1v1h-1zM871 572h1v1h-1zM874 572h1v1h-1zM923 572h8v1h-8zM956 572h1v1h-1zM774 573h2v1h-2zM782 573h4v1h-4zM865 573h2v1h-2zM872 573h1v1h-1zM874 573h1v1h-1zM931 573h1v1h-1zM955 573h1v1h-1zM776 574h6v1h-6zM866 574h1v1h-1zM872 574h1v1h-1zM874 574h1v1h-1zM932 574h1v1h-1zM955 574h1v1h-1zM872 575h2v1h-2zM933 575h2v1h-2zM955 575h1v1h-1zM873 576h1v1h-1zM935 576h1v1h-1zM941 576h12v1h-12zM954 576h1v1h-1zM936 577h1v1h-1zM939 577h2v1h-2zM953 577h2v1h-2zM937 578h2v1h-2z" fill="#1e90ff" shape-rendering="crispEdges" />
<text x="9" y="517" font-size="9.3" fill="#000" stroke="#000" stroke-width="0.15" >RSI(14) 61.4508</text>
<text x="1493" y="515" font-size="9.2" fill="#000" stroke="#000" stroke-width="0.15" >100</text>
<text x="1493" y="534.5" font-size="9.2" fill="#000" stroke="#000" stroke-width="0.15" >70</text>
<text x="1493" y="568.5" font-size="9.2" fill="#000" stroke="#000" stroke-width="0.15" >30</text>
<text x="1493" y="587.5" font-size="9.2" fill="#000" stroke="#000" stroke-width="0.15" >0</text>
<g shape-rendering="crispEdges" fill="#000">
<rect x="1490" y="617" width="2" height="1"/>
</g>
<g shape-rendering="crispEdges" fill="#c0c0c0">
<rect x="5" y="617" width="1" height="5"/>
<rect x="9" y="617" width="1" height="5"/>
<rect x="13" y="617" width="1" height="5"/>
<rect x="17" y="617" width="1" height="4"/>
<rect x="21" y="617" width="1" height="4"/>
<rect x="25" y="617" width="1" height="2"/>
<rect x="29" y="617" width="1" height="1"/>
<rect x="33" y="616" width="1" height="2"/>
<rect x="37" y="616" width="1" height="2"/>
<rect x="41" y="614" width="1" height="4"/>
<rect x="45" y="614" width="1" height="4"/>
<rect x="49" y="614" width="1" height="4"/>
<rect x="53" y="614" width="1" height="4"/>
<rect x="57" y="614" width="1" height="4"/>
<rect x="61" y="614" width="1" height="4"/>
<rect x="65" y="614" width="1" height="4"/>
<rect x="69" y="614" width="1" height="4"/>
<rect x="73" y="614" width="1" height="4"/>
<rect x="77" y="614" width="1" height="4"/>
<rect x="81" y="614" width="1" height="4"/>
<rect x="85" y="614" width="1" height="4"/>
<rect x="89" y="614" width="1" height="4"/>
<rect x="93" y="614" width="1" height="4"/>
<rect x="97" y="614" width="1" height="4"/>
<rect x="101" y="614" width="1" height="4"/>
<rect x="105" y="614" width="1" height="4"/>
<rect x="109" y="614" width="1" height="4"/>
<rect x="113" y="614" width="1" height="4"/>
<rect x="117" y="613" width="1" height="5"/>
<rect x="121" y="614" width="1" height="4"/>
<rect x="125" y="616" width="1" height="2"/>
<rect x="129" y="617" width="1" height="1"/>
<rect x="133" y="617" width="1" height="3"/>
<rect x="137" y="617" width="1" height="4"/>
<rect x="141" y="617" width="1" height="6"/>
<rect x="145" y="617" width="1" height="6"/>
<rect x="149" y="617" width="1" height="8"/>
<rect x="153" y="617" width="1" height="9"/>
<rect x="157" y="617" width="1" height="11"/>
<rect x="161" y="617" width="1" height="12"/>
<rect x="165" y="617" width="1" height="13"/>
<rect x="169" y="617" width="1" height="14"/>
<rect x="173" y="617" width="1" height="14"/>
<rect x="177" y="617" width="1" height="14"/>
<rect x="181" y="617" width="1" height="14"/>
<rect x="185" y="617" width="1" height="14"/>
<rect x="189" y="617" width="1" height="15"/>
<rect x="193" y="617" width="1" height="15"/>
<rect x="197" y="617" width="1" height="14"/>
<rect x="201" y="617" width="1" height="14"/>
<rect x="205" y="617" width="1" height="14"/>
<rect x="209" y="617" width="1" height="13"/>
<rect x="213" y="617" width="1" height="13"/>
<rect x="217" y="617" width="1" height="12"/>
<rect x="221" y="617" width="1" height="12"/>
<rect x="225" y="617" width="1" height="11"/>
<rect x="229" y="617" width="1" height="11"/>
<rect x="233" y="617" width="1" height="10"/>
<rect x="237" y="617" width="1" height="10"/>
<rect x="241" y="617" width="1" height="10"/>
<rect x="245" y="617" width="1" height="9"/>
<rect x="249" y="617" width="1" height="9"/>
<rect x="253" y="617" width="1" height="8"/>
<rect x="257" y="617" width="1" height="8"/>
<rect x="261" y="617" width="1" height="8"/>
<rect x="265" y="617" width="1" height="6"/>
<rect x="269" y="617" width="1" height="5"/>
<rect x="273" y="617" width="1" height="4"/>
<rect x="277" y="617" width="1" height="2"/>
<rect x="281" y="617" width="1" height="1"/>
<rect x="285" y="616" width="1" height="2"/>
<rect x="289" y="616" width="1" height="2"/>
<rect x="293" y="614" width="1" height="4"/>
<rect x="297" y="613" width="1" height="5"/>
<rect x="301" y="613" width="1" height="5"/>
<rect x="305" y="613" width="1" height="5"/>
<rect x="309" y="613" width="1" height="5"/>
<rect x="313" y="614" width="1" height="4"/>
<rect x="317" y="614" width="1" height="4"/>
<rect x="321" y="614" width="1" height="4"/>
<rect x="325" y="615" width="1" height="3"/>
<rect x="329" y="617" width="1" height="1"/>
<rect x="333" y="617" width="1" height="2"/>
<rect x="337" y="617" width="1" height="2"/>
<rect x="341" y="617" width="1" height="4"/>
<rect x="345" y="617" width="1" height="4"/>
<rect x="349" y="617" width="1" height="5"/>
<rect x="353" y="617" width="1" height="5"/>
<rect x="357" y="617" width="1" height="6"/>
<rect x="361" y="617" width="1" height="6"/>
<rect x="365" y="617" width="1" height="6"/>
<rect x="369" y="617" width="1" height="6"/>
<rect x="373" y="617" width="1" height="6"/>
<rect x="377" y="617" width="1" height="6"/>
<rect x="381" y="617" width="1" height="6"/>
<rect x="385" y="617" width="1" height="6"/>
<rect x="389" y="617" width="1" height="6"/>
<rect x="393" y="617" width="1" height="5"/>
<rect x="397" y="617" width="1" height="4"/>
<rect x="401" y="617" width="1" height="4"/>
<rect x="405" y="617" width="1" height="3"/>
<rect x="409" y="617" width="1" height="3"/>
<rect x="413" y="617" width="1" height="2"/>
<rect x="417" y="617" width="1" height="1"/>
<rect x="421" y="616" width="1" height="2"/>
<rect x="425" y="615" width="1" height="3"/>
<rect x="429" y="614" width="1" height="4"/>
<rect x="433" y="613" width="1" height="5"/>
<rect x="437" y="613" width="1" height="5"/>
<rect x="441" y="613" width="1" height="5"/>
<rect x="445" y="613" width="1" height="5"/>
<rect x="449" y="613" width="1" height="5"/>
<rect x="453" y="613" width="1" height="5"/>
<rect x="457" y="612" width="1" height="6"/>
<rect x="461" y="611" width="1" height="7"/>
<rect x="465" y="611" width="1" height="7"/>
<rect x="469" y="611" width="1" height="7"/>
<rect x="473" y="610" width="1" height="8"/>
<rect x="477" y="610" width="1" height="8"/>
<rect x="481" y="610" width="1" height="8"/>
<rect x="485" y="610" width="1" height="8"/>
<rect x="489" y="611" width="1" height="7"/>
<rect x="493" y="611" width="1" height="7"/>
<rect x="497" y="612" width="1" height="6"/>
<rect x="501" y="613" width="1" height="5"/>
<rect x="505" y="615" width="1" height="3"/>
<rect x="509" y="617" width="1" height="1"/>
<rect x="513" y="617" width="1" height="1"/>
<rect x="517" y="617" width="1" height="2"/>
<rect x="521" y="617" width="1" height="2"/>
<rect x="525" y="617" width="1" height="2"/>
<rect x="529" y="617" width="1" height="3"/>
<rect x="533" y="617" width="1" height="3"/>
<rect x="537" y="617" width="1" height="3"/>
<rect x="541" y="617" width="1" height="4"/>
<rect x="545" y="617" width="1" height="4"/>
<rect x="549" y="617" width="1" height="4"/>
<rect x="553" y="617" width="1" height="5"/>
<rect x="557" y="617" width="1" height="5"/>
<rect x="561" y="617" width="1" height="5"/>
<rect x="565" y="617" width="1" height="6"/>
<rect x="569" y="617" width="1" height="5"/>
<rect x="573" y="617" width="1" height="5"/>
<rect x="577" y="617" width="1" height="5"/>
<rect x="581" y="617" width="1" height="3"/>
<rect x="585" y="617" width="1" height="3"/>
<rect x="589" y="617" width="1" height="2"/>
<rect x="593" y="617" width="1" height="1"/>
<rect x="597" y="617" width="1" height="1"/>
<rect x="601" y="617" width="1" height="1"/>
<rect x="605" y="616" width="1" height="2"/>
<rect x="609" y="615" width="1" height="3"/>
<rect x="613" y="615" width="1" height="3"/>
<rect x="617" y="614" width="1" height="4"/>
<rect x="621" y="614" width="1" height="4"/>
<rect x="625" y="614" width="1" height="4"/>
<rect x="629" y="613" width="1" height="5"/>
<rect x="633" y="613" width="1" height="5"/>
<rect x="637" y="612" width="1" height="6"/>
<rect x="641" y="612" width="1" height="6"/>
<rect x="645" y="611" width="1" height="7"/>
<rect x="649" y="611" width="1" height="7"/>
<rect x="653" y="610" width="1" height="8"/>
<rect x="657" y="610" width="1" height="8"/>
<rect x="661" y="609" width="1" height="9"/>
<rect x="665" y="608" width="1" height="10"/>
<rect x="669" y="607" width="1" height="11"/>
<rect x="673" y="606" width="1" height="12"/>
<rect x="677" y="606" width="1" height="12"/>
<rect x="681" y="607" width="1" height="11"/>
<rect x="685" y="607" width="1" height="11"/>
<rect x="689" y="609" width="1" height="9"/>
<rect x="693" y="612" width="1" height="6"/>
<rect x="697" y="614" width="1" height="4"/>
<rect x="701" y="616" width="1" height="2"/>
<rect x="705" y="617" width="1" height="1"/>
<rect x="709" y="617" width="1" height="1"/>
<rect x="713" y="617" width="1" height="1"/>
<rect x="717" y="617" width="1" height="1"/>
<rect x="721" y="617" width="1" height="1"/>
<rect x="725" y="617" width="1" height="2"/>
<rect x="729" y="617" width="1" height="2"/>
<rect x="733" y="617" width="1" height="2"/>
<rect x="737" y="617" width="1" height="2"/>
<rect x="741" y="617" width="1" height="3"/>
<rect x="745" y="617" width="1" height="3"/>
<rect x="749" y="617" width="1" height="4"/>
<rect x="753" y="617" width="1" height="5"/>
<rect x="757" y="617" width="1" height="6"/>
<rect x="761" y="617" width="1" height="7"/>
<rect x="765" y="617" width="1" height="8"/>
<rect x="769" y="617" width="1" height="10"/>
<rect x="773" y="617" width="1" height="11"/>
<rect x="777" y="617" width="1" height="12"/>
<rect x="781" y="617" width="1" height="13"/>
<rect x="785" y="617" width="1" height="14"/>
<rect x="789" y="617" width="1" height="14"/>
<rect x="793" y="617" width="1" height="14"/>
<rect x="797" y="617" width="1" height="13"/>
<rect x="801" y="617" width="1" height="14"/>
<rect x="805" y="617" width="1" height="15"/>
<rect x="809" y="617" width="1" height="14"/>
<rect x="813" y="617" width="1" height="13"/>
<rect x="817" y="617" width="1" height="12"/>
<rect x="821" y="617" width="1" height="11"/>
<rect x="825" y="617" width="1" height="11"/>
<rect x="829" y="617" width="1" height="10"/>
<rect x="833" y="617" width="1" height="9"/>
<rect x="837" y="617" width="1" height="9"/>
<rect x="841" y="617" width="1" height="10"/>
<rect x="845" y="617" width="1" height="10"/>
<rect x="849" y="617" width="1" height="10"/>
<rect x="853" y="617" width="1" height="11"/>
<rect x="857" y="617" width="1" height="11"/>
<rect x="861" y="617" width="1" height="12"/>
<rect x="865" y="617" width="1" height="13"/>
<rect x="869" y="617" width="1" height="14"/>
<rect x="873" y="617" width="1" height="17"/>
<rect x="877" y="617" width="1" height="17"/>
<rect x="881" y="617" width="1" height="18"/>
<rect x="885" y="617" width="1" height="15"/>
<rect x="889" y="617" width="1" height="15"/>
<rect x="893" y="617" width="1" height="13"/>
<rect x="897" y="617" width="1" height="11"/>
<rect x="901" y="617" width="1" height="10"/>
<rect x="905" y="617" width="1" height="8"/>
<rect x="909" y="617" width="1" height="9"/>
<rect x="913" y="617" width="1" height="10"/>
<rect x="917" y="617" width="1" height="16"/>
<rect x="921" y="617" width="1" height="22"/>
<rect x="925" y="617" width="1" height="27"/>
<rect x="929" y="617" width="1" height="31"/>
<rect x="933" y="617" width="1" height="37"/>
<rect x="937" y="617" width="1" height="44"/>
<rect x="941" y="617" width="1" height="49"/>
<rect x="945" y="617" width="1" height="52"/>
<rect x="949" y="617" width="1" height="56"/>
<rect x="953" y="617" width="1" height="58"/>
<rect x="957" y="617" width="1" height="57"/>
<rect x="961" y="617" width="1" height="54"/>
<rect x="965" y="617" width="1" height="50"/>
<rect x="969" y="617" width="1" height="43"/>
<rect x="973" y="617" width="1" height="36"/>
<rect x="977" y="617" width="1" height="32"/>
<rect x="981" y="617" width="1" height="28"/>
<rect x="985" y="617" width="1" height="26"/>
<rect x="989" y="617" width="1" height="25"/>
<rect x="993" y="617" width="1" height="24"/>
<rect x="997" y="617" width="1" height="24"/>
<rect x="1001" y="617" width="1" height="22"/>
<rect x="1005" y="617" width="1" height="18"/>
<rect x="1009" y="617" width="1" height="13"/>
<rect x="1013" y="617" width="1" height="7"/>
<rect x="1017" y="617" width="1" height="2"/>
<rect x="1021" y="617" width="1" height="1"/>
<rect x="1025" y="613" width="1" height="5"/>
<rect x="1029" y="610" width="1" height="8"/>
<rect x="1033" y="608" width="1" height="10"/>
<rect x="1037" y="608" width="1" height="10"/>
<rect x="1041" y="607" width="1" height="11"/>
<rect x="1045" y="607" width="1" height="11"/>
<rect x="1049" y="606" width="1" height="12"/>
<rect x="1053" y="607" width="1" height="11"/>
<rect x="1057" y="607" width="1" height="11"/>
<rect x="1061" y="606" width="1" height="12"/>
<rect x="1065" y="606" width="1" height="12"/>
<rect x="1069" y="606" width="1" height="12"/>
<rect x="1073" y="605" width="1" height="13"/>
<rect x="1077" y="604" width="1" height="14"/>
<rect x="1081" y="602" width="1" height="16"/>
<rect x="1085" y="599" width="1" height="19"/>
<rect x="1089" y="601" width="1" height="17"/>
<rect x="1093" y="602" width="1" height="16"/>
<rect x="1097" y="603" width="1" height="15"/>
<rect x="1101" y="604" width="1" height="14"/>
<rect x="1105" y="605" width="1" height="13"/>
<rect x="1109" y="604" width="1" height="14"/>
<rect x="1113" y="603" width="1" height="15"/>
<rect x="1117" y="602" width="1" height="16"/>
<rect x="1121" y="603" width="1" height="15"/>
<rect x="1125" y="604" width="1" height="14"/>
<rect x="1129" y="605" width="1" height="13"/>
<rect x="1133" y="607" width="1" height="11"/>
<rect x="1137" y="609" width="1" height="9"/>
<rect x="1141" y="610" width="1" height="8"/>
<rect x="1145" y="610" width="1" height="8"/>
<rect x="1149" y="608" width="1" height="10"/>
<rect x="1153" y="606" width="1" height="12"/>
<rect x="1157" y="606" width="1" height="12"/>
<rect x="1161" y="607" width="1" height="11"/>
<rect x="1165" y="608" width="1" height="10"/>
<rect x="1169" y="608" width="1" height="10"/>
<rect x="1173" y="606" width="1" height="12"/>
<rect x="1177" y="605" width="1" height="13"/>
<rect x="1181" y="604" width="1" height="14"/>
</g>
<path d="M1107 600h3v1h-3zM1101 601h3v1h-3zM1113 601h3v1h-3zM1091 602h1v1h-1zM1095 602h3v1h-3zM1119 602h3v1h-3zM1084 603h2v1h-2zM1089 603h2v1h-2zM1125 603h3v1h-3zM1131 603h3v1h-3zM1079 604h1v1h-1zM1083 604h1v1h-1zM1137 604h3v1h-3zM1072 605h2v1h-2zM1077 605h2v1h-2zM1143 605h3v1h-3zM1065 606h3v1h-3zM1071 606h1v1h-1zM1149 606h3v1h-3zM1155 606h3v1h-3zM1161 606h3v1h-3zM1173 606h3v1h-3zM1179 606h3v1h-3zM1060 607h2v1h-2zM1167 607h3v1h-3zM677 608h3v1h-3zM683 608h3v1h-3zM689 608h3v1h-3zM695 608h3v1h-3zM1055 608h1v1h-1zM1059 608h1v1h-1zM671 609h3v1h-3zM701 609h2v1h-2zM1053 609h2v1h-2zM485 610h3v1h-3zM491 610h3v1h-3zM497 610h3v1h-3zM665 610h3v1h-3zM703 610h1v1h-1zM707 610h1v1h-1zM1048 610h2v1h-2zM473 611h3v1h-3zM479 611h3v1h-3zM503 611h3v1h-3zM659 611h3v1h-3zM708 611h2v1h-2zM1047 611h1v1h-1zM463 612h1v1h-1zM467 612h3v1h-3zM509 612h3v1h-3zM647 612h3v1h-3zM653 612h3v1h-3zM713 612h3v1h-3zM108 613h2v1h-2zM113 613h3v1h-3zM119 613h3v1h-3zM125 613h2v1h-2zM312 613h2v1h-2zM317 613h3v1h-3zM455 613h3v1h-3zM461 613h2v1h-2zM636 613h2v1h-2zM641 613h3v1h-3zM53 614h3v1h-3zM59 614h3v1h-3zM65 614h3v1h-3zM71 614h3v1h-3zM77 614h3v1h-3zM101 614h3v1h-3zM107 614h1v1h-1zM127 614h1v1h-1zM131 614h1v1h-1zM307 614h1v1h-1zM311 614h1v1h-1zM323 614h3v1h-3zM329 614h3v1h-3zM439 614h1v1h-1zM443 614h3v1h-3zM449 614h3v1h-3zM515 614h3v1h-3zM631 614h1v1h-1zM635 614h1v1h-1zM719 614h3v1h-3zM1042 614h2v1h-2zM48 615h2v1h-2zM83 615h3v1h-3zM89 615h3v1h-3zM95 615h3v1h-3zM132 615h2v1h-2zM137 615h2v1h-2zM305 615h2v1h-2zM437 615h2v1h-2zM521 615h2v1h-2zM623 615h3v1h-3zM629 615h2v1h-2zM725 615h2v1h-2zM1041 615h1v1h-1zM43 616h1v1h-1zM47 616h1v1h-1zM139 616h1v1h-1zM143 616h1v1h-1zM299 616h3v1h-3zM335 616h3v1h-3zM427 616h1v1h-1zM431 616h3v1h-3zM523 616h1v1h-1zM527 616h1v1h-1zM611 616h3v1h-3zM617 616h3v1h-3zM727 616h1v1h-1zM731 616h1v1h-1zM41 617h2v1h-2zM144 617h2v1h-2zM341 617h2v1h-2zM425 617h2v1h-2zM528 617h2v1h-2zM732 617h2v1h-2zM737 617h2v1h-2zM35 618h3v1h-3zM149 618h2v1h-2zM294 618h2v1h-2zM343 618h1v1h-1zM347 618h1v1h-1zM419 618h3v1h-3zM533 618h3v1h-3zM539 618h1v1h-1zM599 618h3v1h-3zM605 618h3v1h-3zM739 618h1v1h-1zM743 618h3v1h-3zM1037 618h1v1h-1zM151 619h1v1h-1zM293 619h1v1h-1zM348 619h2v1h-2zM540 619h2v1h-2zM545 619h3v1h-3zM593 619h3v1h-3zM749 619h3v1h-3zM1036 619h1v1h-1zM29 620h3v1h-3zM155 620h1v1h-1zM288 620h2v1h-2zM353 620h3v1h-3zM359 620h1v1h-1zM413 620h3v1h-3zM551 620h3v1h-3zM557 620h3v1h-3zM583 620h1v1h-1zM587 620h3v1h-3zM755 620h3v1h-3zM761 620h3v1h-3zM1035 620h1v1h-1zM5 621h3v1h-3zM11 621h3v1h-3zM17 621h3v1h-3zM23 621h3v1h-3zM156 621h2v1h-2zM287 621h1v1h-1zM360 621h2v1h-2zM396 621h2v1h-2zM401 621h3v1h-3zM407 621h3v1h-3zM563 621h3v1h-3zM569 621h3v1h-3zM575 621h3v1h-3zM581 621h2v1h-2zM283 622h1v1h-1zM365 622h3v1h-3zM371 622h3v1h-3zM377 622h3v1h-3zM383 622h3v1h-3zM389 622h3v1h-3zM395 622h1v1h-1zM767 622h2v1h-2zM161 623h1v1h-1zM276 623h2v1h-2zM281 623h2v1h-2zM769 623h1v1h-1zM773 623h1v1h-1zM162 624h2v1h-2zM271 624h1v1h-1zM275 624h1v1h-1zM774 624h2v1h-2zM1030 624h2v1h-2zM269 625h2v1h-2zM1029 625h1v1h-1zM167 626h3v1h-3zM251 626h3v1h-3zM257 626h3v1h-3zM263 626h3v1h-3zM779 626h3v1h-3zM785 626h3v1h-3zM845 626h3v1h-3zM851 626h3v1h-3zM173 627h2v1h-2zM239 627h3v1h-3zM245 627h3v1h-3zM839 627h3v1h-3zM857 627h3v1h-3zM175 628h1v1h-1zM179 628h1v1h-1zM227 628h3v1h-3zM233 628h3v1h-3zM791 628h3v1h-3zM827 628h3v1h-3zM833 628h3v1h-3zM863 628h3v1h-3zM869 628h3v1h-3zM180 629h2v1h-2zM221 629h3v1h-3zM797 629h2v1h-2zM911 629h3v1h-3zM917 629h3v1h-3zM1025 629h1v1h-1zM185 630h3v1h-3zM209 630h3v1h-3zM215 630h3v1h-3zM799 630h1v1h-1zM803 630h3v1h-3zM809 630h3v1h-3zM815 630h3v1h-3zM821 630h3v1h-3zM875 630h3v1h-3zM881 630h3v1h-3zM905 630h3v1h-3zM923 630h2v1h-2zM1023 630h2v1h-2zM191 631h3v1h-3zM197 631h3v1h-3zM203 631h3v1h-3zM887 631h3v1h-3zM893 631h3v1h-3zM899 631h3v1h-3zM925 631h1v1h-1zM929 633h1v1h-1zM930 634h2v1h-2zM1018 634h2v1h-2zM1017 635h1v1h-1zM935 638h1v1h-1zM1012 638h2v1h-2zM936 639h1v1h-1zM1011 639h1v1h-1zM937 640h1v1h-1zM1006 642h2v1h-2zM1005 643h1v1h-1zM941 644h1v1h-1zM942 645h1v1h-1zM943 646h1v1h-1zM1001 646h1v1h-1zM1000 647h1v1h-1zM999 648h1v1h-1zM946 650h1v1h-1zM995 650h1v1h-1zM947 651h1v1h-1zM994 651h1v1h-1zM947 652h1v1h-1zM993 652h1v1h-1zM989 655h1v1h-1zM951 656h1v1h-1zM988 656h1v1h-1zM952 657h1v1h-1zM987 657h1v1h-1zM953 658h1v1h-1zM983 661h1v1h-1zM957 662h1v1h-1zM982 662h1v1h-1zM958 663h1v1h-1zM981 663h1v1h-1zM959 664h1v1h-1zM977 665h1v1h-1zM963 666h2v1h-2zM975 666h2v1h-2zM965 667h1v1h-1zM969 668h3v1h-3z" fill="#ff0000" shape-rendering="crispEdges" />
<text x="9" y="606" font-size="9.3" fill="#000" stroke="#000" stroke-width="0.15" >MACD(12,26,9) 0.005427 0.004740</text>
<text x="1493" y="603.5" font-size="9.2" fill="#000" stroke="#000" stroke-width="0.15" >0.008815</text>
<text x="1493" y="620.5" font-size="9.2" fill="#000" stroke="#000" stroke-width="0.15" >0.00</text>
<text x="1493" y="675.5" font-size="9.2" fill="#000" stroke="#000" stroke-width="0.15" >-0.024082</text>
<g shape-rendering="crispEdges" fill="#000">
<rect x="5" y="680" width="1" height="3"/>
<rect x="69" y="680" width="1" height="3"/>
<rect x="133" y="680" width="1" height="3"/>
<rect x="197" y="680" width="1" height="3"/>
<rect x="261" y="680" width="1" height="3"/>
<rect x="325" y="680" width="1" height="3"/>
<rect x="389" y="680" width="1" height="3"/>
<rect x="453" y="680" width="1" height="3"/>
<rect x="517" y="680" width="1" height="3"/>
<rect x="581" y="680" width="1" height="3"/>
<rect x="645" y="680" width="1" height="3"/>
<rect x="709" y="680" width="1" height="3"/>
<rect x="773" y="680" width="1" height="3"/>
<rect x="837" y="680" width="1" height="3"/>
<rect x="901" y="680" width="1" height="3"/>
<rect x="965" y="680" width="1" height="3"/>
<rect x="1029" y="680" width="1" height="3"/>
<rect x="1093" y="680" width="1" height="3"/>
<rect x="1157" y="680" width="1" height="3"/>
</g>
<text x="4" y="691.6" font-size="9.15" fill="#000" stroke="#000" stroke-width="0.15" >20 Jun 2019</text>
<text x="68" y="691.6" font-size="9.15" fill="#000" stroke="#000" stroke-width="0.15" >9 Jul 2019</text>
<text x="132" y="691.6" font-size="9.15" fill="#000" stroke="#000" stroke-width="0.15" >27 Jul 2019</text>
<text x="196" y="691.6" font-size="9.15" fill="#000" stroke="#000" stroke-width="0.15" >15 Aug 2019</text>
<text x="260" y="691.6" font-size="9.15" fill="#000" stroke="#000" stroke-width="0.15" >3 Sep 2019</text>
<text x="324" y="691.6" font-size="9.15" fill="#000" stroke="#000" stroke-width="0.15" >21 Sep 2019</text>
<text x="388" y="691.6" font-size="9.15" fill="#000" stroke="#000" stroke-width="0.15" >10 Oct 2019</text>
<text x="452" y="691.6" font-size="9.15" fill="#000" stroke="#000" stroke-width="0.15" >29 Oct 2019</text>
<text x="516" y="691.6" font-size="9.15" fill="#000" stroke="#000" stroke-width="0.15" >16 Nov 2019</text>
<text x="580" y="691.6" font-size="9.15" fill="#000" stroke="#000" stroke-width="0.15" >5 Dec 2019</text>
<text x="644" y="691.6" font-size="9.15" fill="#000" stroke="#000" stroke-width="0.15" >24 Dec 2019</text>
<text x="708" y="691.6" font-size="9.15" fill="#000" stroke="#000" stroke-width="0.15" >11 Jan 2020</text>
<text x="772" y="691.6" font-size="9.15" fill="#000" stroke="#000" stroke-width="0.15" >30 Jan 2020</text>
<text x="836" y="691.6" font-size="9.15" fill="#000" stroke="#000" stroke-width="0.15" >18 Feb 2020</text>
<text x="900" y="691.6" font-size="9.15" fill="#000" stroke="#000" stroke-width="0.15" >7 Mar 2020</text>
<text x="964" y="691.6" font-size="9.15" fill="#000" stroke="#000" stroke-width="0.15" >26 Mar 2020</text>
<text x="1028" y="691.6" font-size="9.15" fill="#000" stroke="#000" stroke-width="0.15" >14 Apr 2020</text>
<text x="1092" y="691.6" font-size="9.15" fill="#000" stroke="#000" stroke-width="0.15" >2 May 2020</text>
<text x="1156" y="691.6" font-size="9.15" fill="#000" stroke="#000" stroke-width="0.15" >21 May 2020</text>
<text x="-2" y="14" font-size="10.2" fill="#383838" textLength="11.5" lengthAdjust="spacingAndGlyphs" >15</text>
<text x="18.5" y="14" font-size="10.2" fill="#383838" textLength="17.8" lengthAdjust="spacingAndGlyphs" >M30</text>
<text x="49.6" y="14" font-size="10.2" fill="#383838" textLength="11.4" lengthAdjust="spacingAndGlyphs" >H1</text>
<text x="76.6" y="14" font-size="10.2" fill="#383838" textLength="12.4" lengthAdjust="spacingAndGlyphs" >H4</text>
<text x="105.5" y="14" font-size="10.2" fill="#383838" textLength="11.3" lengthAdjust="spacingAndGlyphs" >D1</text>
<text x="133" y="14" font-size="10.2" fill="#383838" textLength="14" lengthAdjust="spacingAndGlyphs" >W1</text>
<text x="159.5" y="14" font-size="10.2" fill="#383838" textLength="14.5" lengthAdjust="spacingAndGlyphs" >MN</text>
<text x="18.5" y="717" font-size="11.9" fill="#7a7a7a" stroke="#7a7a7a" stroke-width="0.15" >EURUSD,Daily</text>
<text x="122" y="717" font-size="11.9" fill="#7a7a7a" stroke="#7a7a7a" stroke-width="0.15" >USDCHF,Daily</text>
<text x="221" y="717" font-size="11.9" fill="#000" stroke="#000" stroke-width="0.15" >AUDUSD,Daily</text>
<text x="325.5" y="717" font-size="11.9" fill="#7a7a7a" stroke="#7a7a7a" stroke-width="0.15" >USDCAD,Daily</text>
<text x="428.5" y="717" font-size="11.9" fill="#7a7a7a" stroke="#7a7a7a" stroke-width="0.15" >USDCNH,Daily</text>
<text x="534" y="717" font-size="11.9" fill="#7a7a7a" stroke="#7a7a7a" stroke-width="0.15" >EURUSD,Daily</text>
<text x="638" y="717" font-size="11.9" fill="#7a7a7a" stroke="#7a7a7a" stroke-width="0.15" >GBPUSD,Daily</text>
<text x="741.4" y="717" font-size="11.9" fill="#7a7a7a" stroke="#7a7a7a" stroke-width="0.15" >XAUUSD,H4</text>
<text x="833.5" y="717" font-size="11.9" fill="#7a7a7a" stroke="#7a7a7a" stroke-width="0.15" >HK50,H1</text>
<text x="905.5" y="717" font-size="11.9" fill="#7a7a7a" stroke="#7a7a7a" stroke-width="0.15" >UK100,H1</text>
<text x="985" y="717" font-size="11.9" fill="#7a7a7a" stroke="#7a7a7a" stroke-width="0.15" >UK100,H1</text>
<text x="1065" y="717" font-size="11.9" fill="#7a7a7a" stroke="#7a7a7a" stroke-width="0.15" >GER30,H1</text>
<text x="1144" y="717" font-size="11.9" fill="#7a7a7a" stroke="#7a7a7a" stroke-width="0.15" >FRA40,H1</text>
<text x="1220" y="717" font-size="11.9" fill="#7a7a7a" stroke="#7a7a7a" stroke-width="0.15" >USOil,H1</text>
<text x="1292" y="717" font-size="11.9" fill="#7a7a7a" stroke="#7a7a7a" stroke-width="0.15" >USDJPY,H1</text>
<text x="1376.6" y="717" font-size="11.9" fill="#7a7a7a" stroke="#7a7a7a" stroke-width="0.15" >DJ30,H1</text>
</svg>
</body></html>
